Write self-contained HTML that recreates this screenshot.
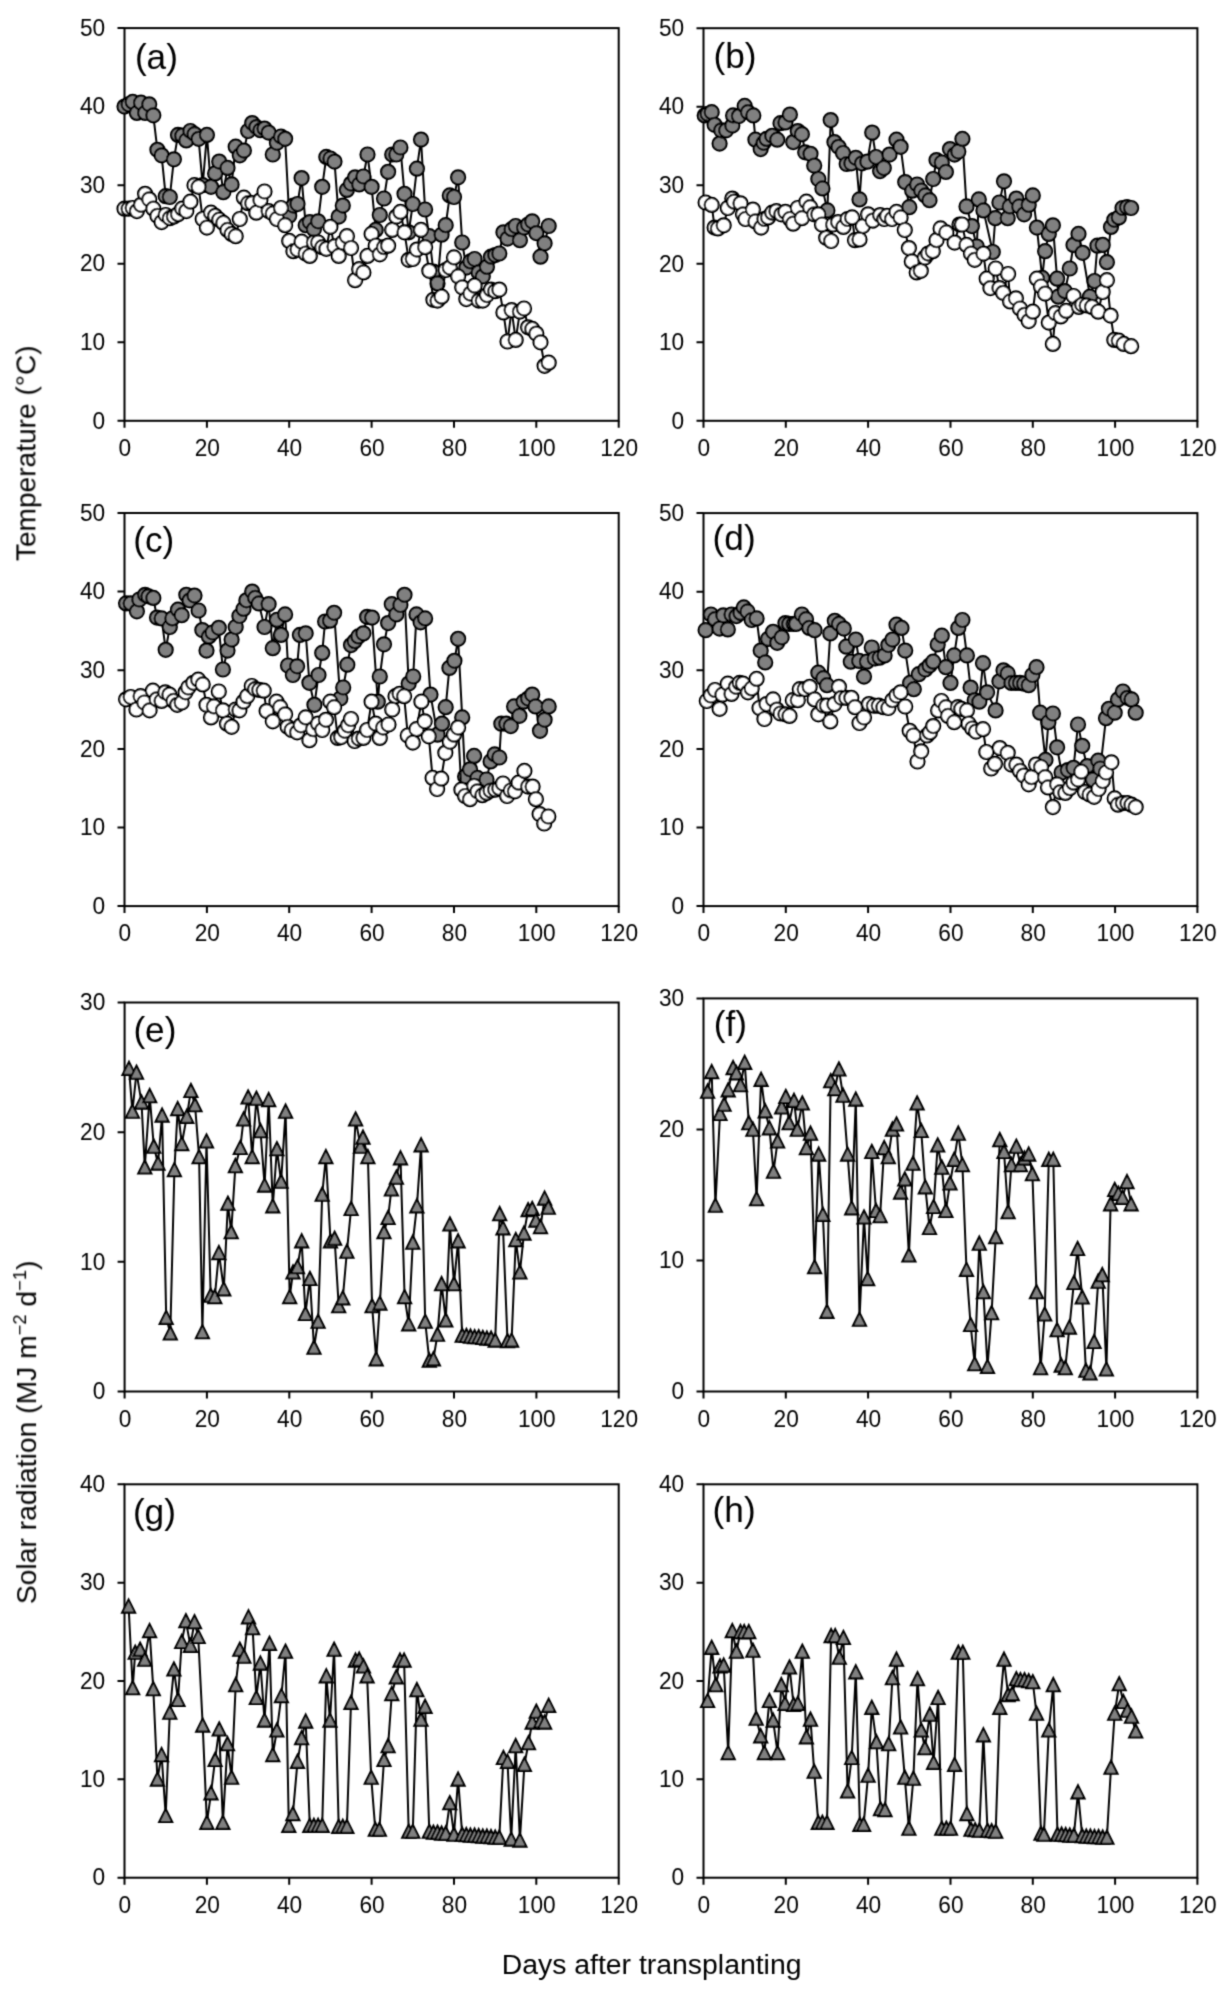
<!DOCTYPE html>
<html><head><meta charset="utf-8"><style>
html,body{margin:0;padding:0;background:#fff;}
svg{display:block;}
text{font-family:"Liberation Sans",sans-serif;fill:#000;}
.tl{font-size:22.7px;}
.tt{font-size:27.7px;}
.pl{font-size:35.2px;}
.sup{font-size:18.3px;}
</style></head><body>
<svg width="1228" height="1999" viewBox="0 0 1228 1999">
<defs><filter id="bl" x="0" y="0" width="1228" height="1999" filterUnits="userSpaceOnUse"><feConvolveMatrix order="3" kernelMatrix="1 4 1 4 16 4 1 4 1" edgeMode="none"/></filter><path id="tri" d="M0 -6.7L6.5 6.3H-6.5Z" fill="#808080" stroke="#000" stroke-width="2.1" stroke-linejoin="miter"/></defs>
<g filter="url(#bl)">
<rect x="124.5" y="28.1" width="494.2" height="392.7" fill="none" stroke="#000" stroke-width="2.0"/>
<text transform="translate(105.2 428.5) scale(1 1.06)" text-anchor="end" class="tl">0</text>
<text transform="translate(105.2 350) scale(1 1.06)" text-anchor="end" class="tl">10</text>
<text transform="translate(105.2 271.4) scale(1 1.06)" text-anchor="end" class="tl">20</text>
<text transform="translate(105.2 192.9) scale(1 1.06)" text-anchor="end" class="tl">30</text>
<text transform="translate(105.2 114.3) scale(1 1.06)" text-anchor="end" class="tl">40</text>
<text transform="translate(105.2 35.8) scale(1 1.06)" text-anchor="end" class="tl">50</text>
<text transform="translate(124.9 455.8) scale(1 1.06)" text-anchor="middle" class="tl">0</text>
<text transform="translate(207.3 455.8) scale(1 1.06)" text-anchor="middle" class="tl">20</text>
<text transform="translate(289.6 455.8) scale(1 1.06)" text-anchor="middle" class="tl">40</text>
<text transform="translate(372 455.8) scale(1 1.06)" text-anchor="middle" class="tl">60</text>
<text transform="translate(454.4 455.8) scale(1 1.06)" text-anchor="middle" class="tl">80</text>
<text transform="translate(536.7 455.8) scale(1 1.06)" text-anchor="middle" class="tl">100</text>
<text transform="translate(619.1 455.8) scale(1 1.06)" text-anchor="middle" class="tl">120</text>
<path d="M117.5 420.8H124.5M117.5 342.3H124.5M117.5 263.7H124.5M117.5 185.2H124.5M117.5 106.6H124.5M117.5 28.1H124.5M124.5 420.8V427.8M206.9 420.8V427.8M289.2 420.8V427.8M371.6 420.8V427.8M454 420.8V427.8M536.3 420.8V427.8M618.7 420.8V427.8" stroke="#000" stroke-width="2.0" fill="none"/>
<text x="134.9" y="68.8" class="pl">(a)</text>
<rect x="703.5" y="28.2" width="493.9" height="392.6" fill="none" stroke="#000" stroke-width="2.0"/>
<text transform="translate(684.2 428.5) scale(1 1.06)" text-anchor="end" class="tl">0</text>
<text transform="translate(684.2 350) scale(1 1.06)" text-anchor="end" class="tl">10</text>
<text transform="translate(684.2 271.5) scale(1 1.06)" text-anchor="end" class="tl">20</text>
<text transform="translate(684.2 192.9) scale(1 1.06)" text-anchor="end" class="tl">30</text>
<text transform="translate(684.2 114.4) scale(1 1.06)" text-anchor="end" class="tl">40</text>
<text transform="translate(684.2 35.9) scale(1 1.06)" text-anchor="end" class="tl">50</text>
<text transform="translate(703.9 455.8) scale(1 1.06)" text-anchor="middle" class="tl">0</text>
<text transform="translate(786.2 455.8) scale(1 1.06)" text-anchor="middle" class="tl">20</text>
<text transform="translate(868.5 455.8) scale(1 1.06)" text-anchor="middle" class="tl">40</text>
<text transform="translate(950.9 455.8) scale(1 1.06)" text-anchor="middle" class="tl">60</text>
<text transform="translate(1033.2 455.8) scale(1 1.06)" text-anchor="middle" class="tl">80</text>
<text transform="translate(1115.5 455.8) scale(1 1.06)" text-anchor="middle" class="tl">100</text>
<text transform="translate(1197.8 455.8) scale(1 1.06)" text-anchor="middle" class="tl">120</text>
<path d="M696.5 420.8H703.5M696.5 342.3H703.5M696.5 263.8H703.5M696.5 185.2H703.5M696.5 106.7H703.5M696.5 28.2H703.5M703.5 420.8V427.8M785.8 420.8V427.8M868.1 420.8V427.8M950.5 420.8V427.8M1032.8 420.8V427.8M1115.1 420.8V427.8M1197.4 420.8V427.8" stroke="#000" stroke-width="2.0" fill="none"/>
<text x="713.5" y="67.7" class="pl">(b)</text>
<rect x="124.5" y="513" width="494.2" height="393.1" fill="none" stroke="#000" stroke-width="2.0"/>
<text transform="translate(105.2 913.8) scale(1 1.06)" text-anchor="end" class="tl">0</text>
<text transform="translate(105.2 835.2) scale(1 1.06)" text-anchor="end" class="tl">10</text>
<text transform="translate(105.2 756.6) scale(1 1.06)" text-anchor="end" class="tl">20</text>
<text transform="translate(105.2 677.9) scale(1 1.06)" text-anchor="end" class="tl">30</text>
<text transform="translate(105.2 599.3) scale(1 1.06)" text-anchor="end" class="tl">40</text>
<text transform="translate(105.2 520.7) scale(1 1.06)" text-anchor="end" class="tl">50</text>
<text transform="translate(124.9 941.1) scale(1 1.06)" text-anchor="middle" class="tl">0</text>
<text transform="translate(207.3 941.1) scale(1 1.06)" text-anchor="middle" class="tl">20</text>
<text transform="translate(289.6 941.1) scale(1 1.06)" text-anchor="middle" class="tl">40</text>
<text transform="translate(372 941.1) scale(1 1.06)" text-anchor="middle" class="tl">60</text>
<text transform="translate(454.4 941.1) scale(1 1.06)" text-anchor="middle" class="tl">80</text>
<text transform="translate(536.7 941.1) scale(1 1.06)" text-anchor="middle" class="tl">100</text>
<text transform="translate(619.1 941.1) scale(1 1.06)" text-anchor="middle" class="tl">120</text>
<path d="M117.5 906.1H124.5M117.5 827.5H124.5M117.5 748.9H124.5M117.5 670.2H124.5M117.5 591.6H124.5M117.5 513H124.5M124.5 906.1V913.1M206.9 906.1V913.1M289.2 906.1V913.1M371.6 906.1V913.1M454 906.1V913.1M536.3 906.1V913.1M618.7 906.1V913.1" stroke="#000" stroke-width="2.0" fill="none"/>
<text x="133.2" y="551.9" class="pl">(c)</text>
<rect x="703.5" y="513.1" width="493.9" height="393" fill="none" stroke="#000" stroke-width="2.0"/>
<text transform="translate(684.2 913.8) scale(1 1.06)" text-anchor="end" class="tl">0</text>
<text transform="translate(684.2 835.2) scale(1 1.06)" text-anchor="end" class="tl">10</text>
<text transform="translate(684.2 756.6) scale(1 1.06)" text-anchor="end" class="tl">20</text>
<text transform="translate(684.2 678) scale(1 1.06)" text-anchor="end" class="tl">30</text>
<text transform="translate(684.2 599.4) scale(1 1.06)" text-anchor="end" class="tl">40</text>
<text transform="translate(684.2 520.8) scale(1 1.06)" text-anchor="end" class="tl">50</text>
<text transform="translate(703.9 941.1) scale(1 1.06)" text-anchor="middle" class="tl">0</text>
<text transform="translate(786.2 941.1) scale(1 1.06)" text-anchor="middle" class="tl">20</text>
<text transform="translate(868.5 941.1) scale(1 1.06)" text-anchor="middle" class="tl">40</text>
<text transform="translate(950.9 941.1) scale(1 1.06)" text-anchor="middle" class="tl">60</text>
<text transform="translate(1033.2 941.1) scale(1 1.06)" text-anchor="middle" class="tl">80</text>
<text transform="translate(1115.5 941.1) scale(1 1.06)" text-anchor="middle" class="tl">100</text>
<text transform="translate(1197.8 941.1) scale(1 1.06)" text-anchor="middle" class="tl">120</text>
<path d="M696.5 906.1H703.5M696.5 827.5H703.5M696.5 748.9H703.5M696.5 670.3H703.5M696.5 591.7H703.5M696.5 513.1H703.5M703.5 906.1V913.1M785.8 906.1V913.1M868.1 906.1V913.1M950.5 906.1V913.1M1032.8 906.1V913.1M1115.1 906.1V913.1M1197.4 906.1V913.1" stroke="#000" stroke-width="2.0" fill="none"/>
<text x="712.6" y="550.3" class="pl">(d)</text>
<rect x="124.6" y="1002.5" width="494.1" height="389" fill="none" stroke="#000" stroke-width="2.0"/>
<text transform="translate(105.3 1399.2) scale(1 1.06)" text-anchor="end" class="tl">0</text>
<text transform="translate(105.3 1269.5) scale(1 1.06)" text-anchor="end" class="tl">10</text>
<text transform="translate(105.3 1139.9) scale(1 1.06)" text-anchor="end" class="tl">20</text>
<text transform="translate(105.3 1010.2) scale(1 1.06)" text-anchor="end" class="tl">30</text>
<text transform="translate(125 1426.5) scale(1 1.06)" text-anchor="middle" class="tl">0</text>
<text transform="translate(207.3 1426.5) scale(1 1.06)" text-anchor="middle" class="tl">20</text>
<text transform="translate(289.7 1426.5) scale(1 1.06)" text-anchor="middle" class="tl">40</text>
<text transform="translate(372.1 1426.5) scale(1 1.06)" text-anchor="middle" class="tl">60</text>
<text transform="translate(454.4 1426.5) scale(1 1.06)" text-anchor="middle" class="tl">80</text>
<text transform="translate(536.8 1426.5) scale(1 1.06)" text-anchor="middle" class="tl">100</text>
<text transform="translate(619.1 1426.5) scale(1 1.06)" text-anchor="middle" class="tl">120</text>
<path d="M117.6 1391.5H124.6M117.6 1261.8H124.6M117.6 1132.2H124.6M117.6 1002.5H124.6M124.6 1391.5V1398.5M206.9 1391.5V1398.5M289.3 1391.5V1398.5M371.7 1391.5V1398.5M454 1391.5V1398.5M536.4 1391.5V1398.5M618.7 1391.5V1398.5" stroke="#000" stroke-width="2.0" fill="none"/>
<text x="133.4" y="1041.5" class="pl">(e)</text>
<rect x="703.5" y="998.4" width="493.9" height="393.1" fill="none" stroke="#000" stroke-width="2.0"/>
<text transform="translate(684.2 1399.2) scale(1 1.06)" text-anchor="end" class="tl">0</text>
<text transform="translate(684.2 1268.2) scale(1 1.06)" text-anchor="end" class="tl">10</text>
<text transform="translate(684.2 1137.1) scale(1 1.06)" text-anchor="end" class="tl">20</text>
<text transform="translate(684.2 1006.1) scale(1 1.06)" text-anchor="end" class="tl">30</text>
<text transform="translate(703.9 1426.5) scale(1 1.06)" text-anchor="middle" class="tl">0</text>
<text transform="translate(786.2 1426.5) scale(1 1.06)" text-anchor="middle" class="tl">20</text>
<text transform="translate(868.5 1426.5) scale(1 1.06)" text-anchor="middle" class="tl">40</text>
<text transform="translate(950.9 1426.5) scale(1 1.06)" text-anchor="middle" class="tl">60</text>
<text transform="translate(1033.2 1426.5) scale(1 1.06)" text-anchor="middle" class="tl">80</text>
<text transform="translate(1115.5 1426.5) scale(1 1.06)" text-anchor="middle" class="tl">100</text>
<text transform="translate(1197.8 1426.5) scale(1 1.06)" text-anchor="middle" class="tl">120</text>
<path d="M696.5 1391.5H703.5M696.5 1260.5H703.5M696.5 1129.4H703.5M696.5 998.4H703.5M703.5 1391.5V1398.5M785.8 1391.5V1398.5M868.1 1391.5V1398.5M950.5 1391.5V1398.5M1032.8 1391.5V1398.5M1115.1 1391.5V1398.5M1197.4 1391.5V1398.5" stroke="#000" stroke-width="2.0" fill="none"/>
<text x="713.8" y="1036" class="pl">(f)</text>
<rect x="124.5" y="1484.3" width="494.2" height="393.4" fill="none" stroke="#000" stroke-width="2.0"/>
<text transform="translate(105.2 1885.4) scale(1 1.06)" text-anchor="end" class="tl">0</text>
<text transform="translate(105.2 1787) scale(1 1.06)" text-anchor="end" class="tl">10</text>
<text transform="translate(105.2 1688.7) scale(1 1.06)" text-anchor="end" class="tl">20</text>
<text transform="translate(105.2 1590.4) scale(1 1.06)" text-anchor="end" class="tl">30</text>
<text transform="translate(105.2 1492) scale(1 1.06)" text-anchor="end" class="tl">40</text>
<text transform="translate(124.9 1912.7) scale(1 1.06)" text-anchor="middle" class="tl">0</text>
<text transform="translate(207.3 1912.7) scale(1 1.06)" text-anchor="middle" class="tl">20</text>
<text transform="translate(289.6 1912.7) scale(1 1.06)" text-anchor="middle" class="tl">40</text>
<text transform="translate(372 1912.7) scale(1 1.06)" text-anchor="middle" class="tl">60</text>
<text transform="translate(454.4 1912.7) scale(1 1.06)" text-anchor="middle" class="tl">80</text>
<text transform="translate(536.7 1912.7) scale(1 1.06)" text-anchor="middle" class="tl">100</text>
<text transform="translate(619.1 1912.7) scale(1 1.06)" text-anchor="middle" class="tl">120</text>
<path d="M117.5 1877.7H124.5M117.5 1779.3H124.5M117.5 1681H124.5M117.5 1582.7H124.5M117.5 1484.3H124.5M124.5 1877.7V1884.7M206.9 1877.7V1884.7M289.2 1877.7V1884.7M371.6 1877.7V1884.7M454 1877.7V1884.7M536.3 1877.7V1884.7M618.7 1877.7V1884.7" stroke="#000" stroke-width="2.0" fill="none"/>
<text x="132.9" y="1523.7" class="pl">(g)</text>
<rect x="703.5" y="1484.3" width="493.9" height="393.4" fill="none" stroke="#000" stroke-width="2.0"/>
<text transform="translate(684.2 1885.4) scale(1 1.06)" text-anchor="end" class="tl">0</text>
<text transform="translate(684.2 1787) scale(1 1.06)" text-anchor="end" class="tl">10</text>
<text transform="translate(684.2 1688.7) scale(1 1.06)" text-anchor="end" class="tl">20</text>
<text transform="translate(684.2 1590.4) scale(1 1.06)" text-anchor="end" class="tl">30</text>
<text transform="translate(684.2 1492) scale(1 1.06)" text-anchor="end" class="tl">40</text>
<text transform="translate(703.9 1912.7) scale(1 1.06)" text-anchor="middle" class="tl">0</text>
<text transform="translate(786.2 1912.7) scale(1 1.06)" text-anchor="middle" class="tl">20</text>
<text transform="translate(868.5 1912.7) scale(1 1.06)" text-anchor="middle" class="tl">40</text>
<text transform="translate(950.9 1912.7) scale(1 1.06)" text-anchor="middle" class="tl">60</text>
<text transform="translate(1033.2 1912.7) scale(1 1.06)" text-anchor="middle" class="tl">80</text>
<text transform="translate(1115.5 1912.7) scale(1 1.06)" text-anchor="middle" class="tl">100</text>
<text transform="translate(1197.8 1912.7) scale(1 1.06)" text-anchor="middle" class="tl">120</text>
<path d="M696.5 1877.7H703.5M696.5 1779.3H703.5M696.5 1681H703.5M696.5 1582.7H703.5M696.5 1484.3H703.5M703.5 1877.7V1884.7M785.8 1877.7V1884.7M868.1 1877.7V1884.7M950.5 1877.7V1884.7M1032.8 1877.7V1884.7M1115.1 1877.7V1884.7M1197.4 1877.7V1884.7" stroke="#000" stroke-width="2.0" fill="none"/>
<text x="712.6" y="1522" class="pl">(h)</text>
<g stroke="#000" stroke-width="2.2">
<polyline fill="none" stroke="#000" stroke-width="2.0" stroke-linejoin="round" points="124.5,106.6 128.6,104.3 132.7,101.9 136.9,112.9 141,102.7 145.1,112.9 149.2,104.3 153.3,115.3 157.4,149.8 161.6,155.3 165.7,196.2 169.8,197 173.9,159.3 178,134.9 182.2,135.7 186.3,140.4 190.4,131 194.5,134.1 198.6,138.8 202.7,185.2 206.9,134.9 211,186.8 215.1,173.4 219.2,161.6 223.3,192.2 227.5,167.9 231.6,184.4 235.7,146.7 239.8,155.3 243.9,150.6 248.1,131 252.2,123.1 256.3,127.1 260.4,130.2 264.5,128.6 268.6,132.6 272.8,154.5 276.9,142.8 281,136.5 285.1,138.8 289.2,215.8 293.4,205.6 297.5,204 301.6,178.1 305.7,225.2 309.8,222.1 313.9,229.2 318.1,221.3 322.2,186.8 326.3,156.9 330.4,158.5 334.5,161.6 338.7,216.6 342.8,205.6 346.9,189.9 351,183.6 355.1,177.3 359.2,184.4 363.4,176.5 367.5,154.5 371.6,186.8 375.7,229.9 379.8,215 384,198.5 388.1,171.8 392.2,154.5 396.3,154.5 400.4,147.5 404.5,193.8 408.7,232.3 412.8,204 416.9,168.7 421,139.6 425.1,209.5 429.3,236.2 433.4,271.6 437.5,283.4 441.6,234.7 445.7,225.2 449.8,195.4 454,197 458.1,177.3 462.2,242.5 466.3,267.6 470.4,261.4 474.6,259 478.7,272.4 482.8,276.3 486.9,266.9 491,256.7 495.2,255.1 499.3,253.5 503.4,232.3 507.5,238.6 511.6,229.2 515.7,226 519.9,240.2 524,227.6 528.1,224.5 532.2,221.3 536.3,233.1 540.5,256.7 544.6,243.3 548.7,226"/>
<circle cx="124.5" cy="106.6" r="7.0" fill="#808080"/>
<circle cx="128.6" cy="104.3" r="7.0" fill="#808080"/>
<circle cx="132.7" cy="101.9" r="7.0" fill="#808080"/>
<circle cx="136.9" cy="112.9" r="7.0" fill="#808080"/>
<circle cx="141" cy="102.7" r="7.0" fill="#808080"/>
<circle cx="145.1" cy="112.9" r="7.0" fill="#808080"/>
<circle cx="149.2" cy="104.3" r="7.0" fill="#808080"/>
<circle cx="153.3" cy="115.3" r="7.0" fill="#808080"/>
<circle cx="157.4" cy="149.8" r="7.0" fill="#808080"/>
<circle cx="161.6" cy="155.3" r="7.0" fill="#808080"/>
<circle cx="165.7" cy="196.2" r="7.0" fill="#808080"/>
<circle cx="169.8" cy="197" r="7.0" fill="#808080"/>
<circle cx="173.9" cy="159.3" r="7.0" fill="#808080"/>
<circle cx="178" cy="134.9" r="7.0" fill="#808080"/>
<circle cx="182.2" cy="135.7" r="7.0" fill="#808080"/>
<circle cx="186.3" cy="140.4" r="7.0" fill="#808080"/>
<circle cx="190.4" cy="131" r="7.0" fill="#808080"/>
<circle cx="194.5" cy="134.1" r="7.0" fill="#808080"/>
<circle cx="198.6" cy="138.8" r="7.0" fill="#808080"/>
<circle cx="202.7" cy="185.2" r="7.0" fill="#808080"/>
<circle cx="206.9" cy="134.9" r="7.0" fill="#808080"/>
<circle cx="211" cy="186.8" r="7.0" fill="#808080"/>
<circle cx="215.1" cy="173.4" r="7.0" fill="#808080"/>
<circle cx="219.2" cy="161.6" r="7.0" fill="#808080"/>
<circle cx="223.3" cy="192.2" r="7.0" fill="#808080"/>
<circle cx="227.5" cy="167.9" r="7.0" fill="#808080"/>
<circle cx="231.6" cy="184.4" r="7.0" fill="#808080"/>
<circle cx="235.7" cy="146.7" r="7.0" fill="#808080"/>
<circle cx="239.8" cy="155.3" r="7.0" fill="#808080"/>
<circle cx="243.9" cy="150.6" r="7.0" fill="#808080"/>
<circle cx="248.1" cy="131" r="7.0" fill="#808080"/>
<circle cx="252.2" cy="123.1" r="7.0" fill="#808080"/>
<circle cx="256.3" cy="127.1" r="7.0" fill="#808080"/>
<circle cx="260.4" cy="130.2" r="7.0" fill="#808080"/>
<circle cx="264.5" cy="128.6" r="7.0" fill="#808080"/>
<circle cx="268.6" cy="132.6" r="7.0" fill="#808080"/>
<circle cx="272.8" cy="154.5" r="7.0" fill="#808080"/>
<circle cx="276.9" cy="142.8" r="7.0" fill="#808080"/>
<circle cx="281" cy="136.5" r="7.0" fill="#808080"/>
<circle cx="285.1" cy="138.8" r="7.0" fill="#808080"/>
<circle cx="289.2" cy="215.8" r="7.0" fill="#808080"/>
<circle cx="293.4" cy="205.6" r="7.0" fill="#808080"/>
<circle cx="297.5" cy="204" r="7.0" fill="#808080"/>
<circle cx="301.6" cy="178.1" r="7.0" fill="#808080"/>
<circle cx="305.7" cy="225.2" r="7.0" fill="#808080"/>
<circle cx="309.8" cy="222.1" r="7.0" fill="#808080"/>
<circle cx="313.9" cy="229.2" r="7.0" fill="#808080"/>
<circle cx="318.1" cy="221.3" r="7.0" fill="#808080"/>
<circle cx="322.2" cy="186.8" r="7.0" fill="#808080"/>
<circle cx="326.3" cy="156.9" r="7.0" fill="#808080"/>
<circle cx="330.4" cy="158.5" r="7.0" fill="#808080"/>
<circle cx="334.5" cy="161.6" r="7.0" fill="#808080"/>
<circle cx="338.7" cy="216.6" r="7.0" fill="#808080"/>
<circle cx="342.8" cy="205.6" r="7.0" fill="#808080"/>
<circle cx="346.9" cy="189.9" r="7.0" fill="#808080"/>
<circle cx="351" cy="183.6" r="7.0" fill="#808080"/>
<circle cx="355.1" cy="177.3" r="7.0" fill="#808080"/>
<circle cx="359.2" cy="184.4" r="7.0" fill="#808080"/>
<circle cx="363.4" cy="176.5" r="7.0" fill="#808080"/>
<circle cx="367.5" cy="154.5" r="7.0" fill="#808080"/>
<circle cx="371.6" cy="186.8" r="7.0" fill="#808080"/>
<circle cx="375.7" cy="229.9" r="7.0" fill="#808080"/>
<circle cx="379.8" cy="215" r="7.0" fill="#808080"/>
<circle cx="384" cy="198.5" r="7.0" fill="#808080"/>
<circle cx="388.1" cy="171.8" r="7.0" fill="#808080"/>
<circle cx="392.2" cy="154.5" r="7.0" fill="#808080"/>
<circle cx="396.3" cy="154.5" r="7.0" fill="#808080"/>
<circle cx="400.4" cy="147.5" r="7.0" fill="#808080"/>
<circle cx="404.5" cy="193.8" r="7.0" fill="#808080"/>
<circle cx="408.7" cy="232.3" r="7.0" fill="#808080"/>
<circle cx="412.8" cy="204" r="7.0" fill="#808080"/>
<circle cx="416.9" cy="168.7" r="7.0" fill="#808080"/>
<circle cx="421" cy="139.6" r="7.0" fill="#808080"/>
<circle cx="425.1" cy="209.5" r="7.0" fill="#808080"/>
<circle cx="429.3" cy="236.2" r="7.0" fill="#808080"/>
<circle cx="433.4" cy="271.6" r="7.0" fill="#808080"/>
<circle cx="437.5" cy="283.4" r="7.0" fill="#808080"/>
<circle cx="441.6" cy="234.7" r="7.0" fill="#808080"/>
<circle cx="445.7" cy="225.2" r="7.0" fill="#808080"/>
<circle cx="449.8" cy="195.4" r="7.0" fill="#808080"/>
<circle cx="454" cy="197" r="7.0" fill="#808080"/>
<circle cx="458.1" cy="177.3" r="7.0" fill="#808080"/>
<circle cx="462.2" cy="242.5" r="7.0" fill="#808080"/>
<circle cx="466.3" cy="267.6" r="7.0" fill="#808080"/>
<circle cx="470.4" cy="261.4" r="7.0" fill="#808080"/>
<circle cx="474.6" cy="259" r="7.0" fill="#808080"/>
<circle cx="478.7" cy="272.4" r="7.0" fill="#808080"/>
<circle cx="482.8" cy="276.3" r="7.0" fill="#808080"/>
<circle cx="486.9" cy="266.9" r="7.0" fill="#808080"/>
<circle cx="491" cy="256.7" r="7.0" fill="#808080"/>
<circle cx="495.2" cy="255.1" r="7.0" fill="#808080"/>
<circle cx="499.3" cy="253.5" r="7.0" fill="#808080"/>
<circle cx="503.4" cy="232.3" r="7.0" fill="#808080"/>
<circle cx="507.5" cy="238.6" r="7.0" fill="#808080"/>
<circle cx="511.6" cy="229.2" r="7.0" fill="#808080"/>
<circle cx="515.7" cy="226" r="7.0" fill="#808080"/>
<circle cx="519.9" cy="240.2" r="7.0" fill="#808080"/>
<circle cx="524" cy="227.6" r="7.0" fill="#808080"/>
<circle cx="528.1" cy="224.5" r="7.0" fill="#808080"/>
<circle cx="532.2" cy="221.3" r="7.0" fill="#808080"/>
<circle cx="536.3" cy="233.1" r="7.0" fill="#808080"/>
<circle cx="540.5" cy="256.7" r="7.0" fill="#808080"/>
<circle cx="544.6" cy="243.3" r="7.0" fill="#808080"/>
<circle cx="548.7" cy="226" r="7.0" fill="#808080"/>
<polyline fill="none" stroke="#000" stroke-width="2.0" stroke-linejoin="round" points="124.5,208.7 128.6,208.7 132.7,208 136.9,211.1 141,204.8 145.1,193.8 149.2,199.3 153.3,208.7 157.4,215.8 161.6,222.1 165.7,215 169.8,218.2 173.9,216.6 178,214.2 182.2,208.7 186.3,211.1 190.4,201.7 194.5,185.2 198.6,186.8 202.7,219 206.9,227.6 211,212.7 215.1,215.8 219.2,219.7 223.3,222.9 227.5,229.9 231.6,233.9 235.7,236.2 239.8,219 243.9,197.7 248.1,203.2 252.2,203.2 256.3,212.7 260.4,200.1 264.5,191.5 268.6,211.1 272.8,213.5 276.9,219 281,208 285.1,225.2 289.2,240.9 293.4,251.2 297.5,249.6 301.6,241.7 305.7,253.5 309.8,255.9 313.9,242.5 318.1,242.5 322.2,247.2 326.3,248.8 330.4,226.8 334.5,246.4 338.7,255.9 342.8,242.5 346.9,236.2 351,248 355.1,280.2 359.2,269.2 363.4,272.4 367.5,255.9 371.6,233.9 375.7,245.7 379.8,254.3 384,247.2 388.1,245.7 392.2,229.9 396.3,216.6 400.4,211.9 404.5,232.3 408.7,259.8 412.8,259 416.9,249.6 421,229.9 425.1,247.2 429.3,270.8 433.4,299.8 437.5,300.6 441.6,296.7 445.7,270 449.8,267.6 454,257.4 458.1,276.3 462.2,287.3 466.3,299.1 470.4,293.6 474.6,285.7 478.7,300.6 482.8,300.6 486.9,295.1 491,289.6 495.2,291.2 499.3,289.6 503.4,312.4 507.5,341.5 511.6,310.1 515.7,339.9 519.9,311.6 524,308.5 528.1,327.3 532.2,328.9 536.3,333.6 540.5,342.3 544.6,365.8 548.7,362.7"/>
<circle cx="124.5" cy="208.7" r="7.0" fill="#fff"/>
<circle cx="128.6" cy="208.7" r="7.0" fill="#fff"/>
<circle cx="132.7" cy="208" r="7.0" fill="#fff"/>
<circle cx="136.9" cy="211.1" r="7.0" fill="#fff"/>
<circle cx="141" cy="204.8" r="7.0" fill="#fff"/>
<circle cx="145.1" cy="193.8" r="7.0" fill="#fff"/>
<circle cx="149.2" cy="199.3" r="7.0" fill="#fff"/>
<circle cx="153.3" cy="208.7" r="7.0" fill="#fff"/>
<circle cx="157.4" cy="215.8" r="7.0" fill="#fff"/>
<circle cx="161.6" cy="222.1" r="7.0" fill="#fff"/>
<circle cx="165.7" cy="215" r="7.0" fill="#fff"/>
<circle cx="169.8" cy="218.2" r="7.0" fill="#fff"/>
<circle cx="173.9" cy="216.6" r="7.0" fill="#fff"/>
<circle cx="178" cy="214.2" r="7.0" fill="#fff"/>
<circle cx="182.2" cy="208.7" r="7.0" fill="#fff"/>
<circle cx="186.3" cy="211.1" r="7.0" fill="#fff"/>
<circle cx="190.4" cy="201.7" r="7.0" fill="#fff"/>
<circle cx="194.5" cy="185.2" r="7.0" fill="#fff"/>
<circle cx="198.6" cy="186.8" r="7.0" fill="#fff"/>
<circle cx="202.7" cy="219" r="7.0" fill="#fff"/>
<circle cx="206.9" cy="227.6" r="7.0" fill="#fff"/>
<circle cx="211" cy="212.7" r="7.0" fill="#fff"/>
<circle cx="215.1" cy="215.8" r="7.0" fill="#fff"/>
<circle cx="219.2" cy="219.7" r="7.0" fill="#fff"/>
<circle cx="223.3" cy="222.9" r="7.0" fill="#fff"/>
<circle cx="227.5" cy="229.9" r="7.0" fill="#fff"/>
<circle cx="231.6" cy="233.9" r="7.0" fill="#fff"/>
<circle cx="235.7" cy="236.2" r="7.0" fill="#fff"/>
<circle cx="239.8" cy="219" r="7.0" fill="#fff"/>
<circle cx="243.9" cy="197.7" r="7.0" fill="#fff"/>
<circle cx="248.1" cy="203.2" r="7.0" fill="#fff"/>
<circle cx="252.2" cy="203.2" r="7.0" fill="#fff"/>
<circle cx="256.3" cy="212.7" r="7.0" fill="#fff"/>
<circle cx="260.4" cy="200.1" r="7.0" fill="#fff"/>
<circle cx="264.5" cy="191.5" r="7.0" fill="#fff"/>
<circle cx="268.6" cy="211.1" r="7.0" fill="#fff"/>
<circle cx="272.8" cy="213.5" r="7.0" fill="#fff"/>
<circle cx="276.9" cy="219" r="7.0" fill="#fff"/>
<circle cx="281" cy="208" r="7.0" fill="#fff"/>
<circle cx="285.1" cy="225.2" r="7.0" fill="#fff"/>
<circle cx="289.2" cy="240.9" r="7.0" fill="#fff"/>
<circle cx="293.4" cy="251.2" r="7.0" fill="#fff"/>
<circle cx="297.5" cy="249.6" r="7.0" fill="#fff"/>
<circle cx="301.6" cy="241.7" r="7.0" fill="#fff"/>
<circle cx="305.7" cy="253.5" r="7.0" fill="#fff"/>
<circle cx="309.8" cy="255.9" r="7.0" fill="#fff"/>
<circle cx="313.9" cy="242.5" r="7.0" fill="#fff"/>
<circle cx="318.1" cy="242.5" r="7.0" fill="#fff"/>
<circle cx="322.2" cy="247.2" r="7.0" fill="#fff"/>
<circle cx="326.3" cy="248.8" r="7.0" fill="#fff"/>
<circle cx="330.4" cy="226.8" r="7.0" fill="#fff"/>
<circle cx="334.5" cy="246.4" r="7.0" fill="#fff"/>
<circle cx="338.7" cy="255.9" r="7.0" fill="#fff"/>
<circle cx="342.8" cy="242.5" r="7.0" fill="#fff"/>
<circle cx="346.9" cy="236.2" r="7.0" fill="#fff"/>
<circle cx="351" cy="248" r="7.0" fill="#fff"/>
<circle cx="355.1" cy="280.2" r="7.0" fill="#fff"/>
<circle cx="359.2" cy="269.2" r="7.0" fill="#fff"/>
<circle cx="363.4" cy="272.4" r="7.0" fill="#fff"/>
<circle cx="367.5" cy="255.9" r="7.0" fill="#fff"/>
<circle cx="371.6" cy="233.9" r="7.0" fill="#fff"/>
<circle cx="375.7" cy="245.7" r="7.0" fill="#fff"/>
<circle cx="379.8" cy="254.3" r="7.0" fill="#fff"/>
<circle cx="384" cy="247.2" r="7.0" fill="#fff"/>
<circle cx="388.1" cy="245.7" r="7.0" fill="#fff"/>
<circle cx="392.2" cy="229.9" r="7.0" fill="#fff"/>
<circle cx="396.3" cy="216.6" r="7.0" fill="#fff"/>
<circle cx="400.4" cy="211.9" r="7.0" fill="#fff"/>
<circle cx="404.5" cy="232.3" r="7.0" fill="#fff"/>
<circle cx="408.7" cy="259.8" r="7.0" fill="#fff"/>
<circle cx="412.8" cy="259" r="7.0" fill="#fff"/>
<circle cx="416.9" cy="249.6" r="7.0" fill="#fff"/>
<circle cx="421" cy="229.9" r="7.0" fill="#fff"/>
<circle cx="425.1" cy="247.2" r="7.0" fill="#fff"/>
<circle cx="429.3" cy="270.8" r="7.0" fill="#fff"/>
<circle cx="433.4" cy="299.8" r="7.0" fill="#fff"/>
<circle cx="437.5" cy="300.6" r="7.0" fill="#fff"/>
<circle cx="441.6" cy="296.7" r="7.0" fill="#fff"/>
<circle cx="445.7" cy="270" r="7.0" fill="#fff"/>
<circle cx="449.8" cy="267.6" r="7.0" fill="#fff"/>
<circle cx="454" cy="257.4" r="7.0" fill="#fff"/>
<circle cx="458.1" cy="276.3" r="7.0" fill="#fff"/>
<circle cx="462.2" cy="287.3" r="7.0" fill="#fff"/>
<circle cx="466.3" cy="299.1" r="7.0" fill="#fff"/>
<circle cx="470.4" cy="293.6" r="7.0" fill="#fff"/>
<circle cx="474.6" cy="285.7" r="7.0" fill="#fff"/>
<circle cx="478.7" cy="300.6" r="7.0" fill="#fff"/>
<circle cx="482.8" cy="300.6" r="7.0" fill="#fff"/>
<circle cx="486.9" cy="295.1" r="7.0" fill="#fff"/>
<circle cx="491" cy="289.6" r="7.0" fill="#fff"/>
<circle cx="495.2" cy="291.2" r="7.0" fill="#fff"/>
<circle cx="499.3" cy="289.6" r="7.0" fill="#fff"/>
<circle cx="503.4" cy="312.4" r="7.0" fill="#fff"/>
<circle cx="507.5" cy="341.5" r="7.0" fill="#fff"/>
<circle cx="511.6" cy="310.1" r="7.0" fill="#fff"/>
<circle cx="515.7" cy="339.9" r="7.0" fill="#fff"/>
<circle cx="519.9" cy="311.6" r="7.0" fill="#fff"/>
<circle cx="524" cy="308.5" r="7.0" fill="#fff"/>
<circle cx="528.1" cy="327.3" r="7.0" fill="#fff"/>
<circle cx="532.2" cy="328.9" r="7.0" fill="#fff"/>
<circle cx="536.3" cy="333.6" r="7.0" fill="#fff"/>
<circle cx="540.5" cy="342.3" r="7.0" fill="#fff"/>
<circle cx="544.6" cy="365.8" r="7.0" fill="#fff"/>
<circle cx="548.7" cy="362.7" r="7.0" fill="#fff"/>
<polyline fill="none" stroke="#000" stroke-width="2.0" stroke-linejoin="round" points="704.7,115.4 707.6,113.8 711.7,112.2 714.6,124.8 719.6,143.6 721.2,130.3 726.1,130.3 732.3,125.6 733.1,115.4 738.9,116.1 744.7,105.9 748,112.2 753.3,115.4 755.4,139.7 760.7,149.1 763.6,142.8 766.5,138.9 772.2,135.8 777.2,139.7 780.5,123.2 785.4,122.4 789.9,114.6 793.2,142.1 797.8,131.1 801.9,134.2 805.2,152.3 810.5,153.8 814.2,165.6 818.3,179 822.4,188.4 827.4,210.4 830.7,120.1 834.4,142.1 838.5,146.8 843,153 846.7,164 851.3,163.3 855.8,157.8 859.5,199.4 862,163.3 867.3,161.7 872.2,132.6 876,157 880.1,171.1 883.8,168 889.5,154.6 896.5,139.7 900.6,146.8 905.2,182.1 909.3,207.2 912.2,190.7 917.1,184.5 921.2,190.7 925.3,195.4 929.5,200.2 933.2,179 936.5,160.1 941.8,162.5 945.9,171.9 950,149.1 954.6,154.6 958.3,151.5 962.4,138.9 966.5,206.4 971.9,226.1 976.8,246.5 978.8,199.4 983.4,210.4 992.8,252 995.3,218.2 999.4,202.5 1004,181.3 1007.7,218.2 1009.7,206.4 1016.3,198.6 1019.2,206.4 1024.1,214.3 1028.7,204.9 1032.8,195.4 1036.9,227.6 1042.2,277.9 1045.1,251.2 1048.8,233.9 1052.9,225.3 1057.1,278.7 1058.3,296.7 1064.9,291.2 1069.8,268.5 1073.5,244.9 1078.5,233.9 1082.6,252.8 1090,296.7 1094.5,281 1097.4,245.7 1102.7,244.9 1106.9,262.2 1111,226.9 1114.3,219.8 1118.8,217.4 1122.5,208 1127,207.2 1131.1,208"/>
<circle cx="704.7" cy="115.4" r="7.0" fill="#808080"/>
<circle cx="707.6" cy="113.8" r="7.0" fill="#808080"/>
<circle cx="711.7" cy="112.2" r="7.0" fill="#808080"/>
<circle cx="714.6" cy="124.8" r="7.0" fill="#808080"/>
<circle cx="719.6" cy="143.6" r="7.0" fill="#808080"/>
<circle cx="721.2" cy="130.3" r="7.0" fill="#808080"/>
<circle cx="726.1" cy="130.3" r="7.0" fill="#808080"/>
<circle cx="732.3" cy="125.6" r="7.0" fill="#808080"/>
<circle cx="733.1" cy="115.4" r="7.0" fill="#808080"/>
<circle cx="738.9" cy="116.1" r="7.0" fill="#808080"/>
<circle cx="744.7" cy="105.9" r="7.0" fill="#808080"/>
<circle cx="748" cy="112.2" r="7.0" fill="#808080"/>
<circle cx="753.3" cy="115.4" r="7.0" fill="#808080"/>
<circle cx="755.4" cy="139.7" r="7.0" fill="#808080"/>
<circle cx="760.7" cy="149.1" r="7.0" fill="#808080"/>
<circle cx="763.6" cy="142.8" r="7.0" fill="#808080"/>
<circle cx="766.5" cy="138.9" r="7.0" fill="#808080"/>
<circle cx="772.2" cy="135.8" r="7.0" fill="#808080"/>
<circle cx="777.2" cy="139.7" r="7.0" fill="#808080"/>
<circle cx="780.5" cy="123.2" r="7.0" fill="#808080"/>
<circle cx="785.4" cy="122.4" r="7.0" fill="#808080"/>
<circle cx="789.9" cy="114.6" r="7.0" fill="#808080"/>
<circle cx="793.2" cy="142.1" r="7.0" fill="#808080"/>
<circle cx="797.8" cy="131.1" r="7.0" fill="#808080"/>
<circle cx="801.9" cy="134.2" r="7.0" fill="#808080"/>
<circle cx="805.2" cy="152.3" r="7.0" fill="#808080"/>
<circle cx="810.5" cy="153.8" r="7.0" fill="#808080"/>
<circle cx="814.2" cy="165.6" r="7.0" fill="#808080"/>
<circle cx="818.3" cy="179" r="7.0" fill="#808080"/>
<circle cx="822.4" cy="188.4" r="7.0" fill="#808080"/>
<circle cx="827.4" cy="210.4" r="7.0" fill="#808080"/>
<circle cx="830.7" cy="120.1" r="7.0" fill="#808080"/>
<circle cx="834.4" cy="142.1" r="7.0" fill="#808080"/>
<circle cx="838.5" cy="146.8" r="7.0" fill="#808080"/>
<circle cx="843" cy="153" r="7.0" fill="#808080"/>
<circle cx="846.7" cy="164" r="7.0" fill="#808080"/>
<circle cx="851.3" cy="163.3" r="7.0" fill="#808080"/>
<circle cx="855.8" cy="157.8" r="7.0" fill="#808080"/>
<circle cx="859.5" cy="199.4" r="7.0" fill="#808080"/>
<circle cx="862" cy="163.3" r="7.0" fill="#808080"/>
<circle cx="867.3" cy="161.7" r="7.0" fill="#808080"/>
<circle cx="872.2" cy="132.6" r="7.0" fill="#808080"/>
<circle cx="876" cy="157" r="7.0" fill="#808080"/>
<circle cx="880.1" cy="171.1" r="7.0" fill="#808080"/>
<circle cx="883.8" cy="168" r="7.0" fill="#808080"/>
<circle cx="889.5" cy="154.6" r="7.0" fill="#808080"/>
<circle cx="896.5" cy="139.7" r="7.0" fill="#808080"/>
<circle cx="900.6" cy="146.8" r="7.0" fill="#808080"/>
<circle cx="905.2" cy="182.1" r="7.0" fill="#808080"/>
<circle cx="909.3" cy="207.2" r="7.0" fill="#808080"/>
<circle cx="912.2" cy="190.7" r="7.0" fill="#808080"/>
<circle cx="917.1" cy="184.5" r="7.0" fill="#808080"/>
<circle cx="921.2" cy="190.7" r="7.0" fill="#808080"/>
<circle cx="925.3" cy="195.4" r="7.0" fill="#808080"/>
<circle cx="929.5" cy="200.2" r="7.0" fill="#808080"/>
<circle cx="933.2" cy="179" r="7.0" fill="#808080"/>
<circle cx="936.5" cy="160.1" r="7.0" fill="#808080"/>
<circle cx="941.8" cy="162.5" r="7.0" fill="#808080"/>
<circle cx="945.9" cy="171.9" r="7.0" fill="#808080"/>
<circle cx="950" cy="149.1" r="7.0" fill="#808080"/>
<circle cx="954.6" cy="154.6" r="7.0" fill="#808080"/>
<circle cx="958.3" cy="151.5" r="7.0" fill="#808080"/>
<circle cx="962.4" cy="138.9" r="7.0" fill="#808080"/>
<circle cx="966.5" cy="206.4" r="7.0" fill="#808080"/>
<circle cx="971.9" cy="226.1" r="7.0" fill="#808080"/>
<circle cx="976.8" cy="246.5" r="7.0" fill="#808080"/>
<circle cx="978.8" cy="199.4" r="7.0" fill="#808080"/>
<circle cx="983.4" cy="210.4" r="7.0" fill="#808080"/>
<circle cx="992.8" cy="252" r="7.0" fill="#808080"/>
<circle cx="995.3" cy="218.2" r="7.0" fill="#808080"/>
<circle cx="999.4" cy="202.5" r="7.0" fill="#808080"/>
<circle cx="1004" cy="181.3" r="7.0" fill="#808080"/>
<circle cx="1007.7" cy="218.2" r="7.0" fill="#808080"/>
<circle cx="1009.7" cy="206.4" r="7.0" fill="#808080"/>
<circle cx="1016.3" cy="198.6" r="7.0" fill="#808080"/>
<circle cx="1019.2" cy="206.4" r="7.0" fill="#808080"/>
<circle cx="1024.1" cy="214.3" r="7.0" fill="#808080"/>
<circle cx="1028.7" cy="204.9" r="7.0" fill="#808080"/>
<circle cx="1032.8" cy="195.4" r="7.0" fill="#808080"/>
<circle cx="1036.9" cy="227.6" r="7.0" fill="#808080"/>
<circle cx="1042.2" cy="277.9" r="7.0" fill="#808080"/>
<circle cx="1045.1" cy="251.2" r="7.0" fill="#808080"/>
<circle cx="1048.8" cy="233.9" r="7.0" fill="#808080"/>
<circle cx="1052.9" cy="225.3" r="7.0" fill="#808080"/>
<circle cx="1057.1" cy="278.7" r="7.0" fill="#808080"/>
<circle cx="1058.3" cy="296.7" r="7.0" fill="#808080"/>
<circle cx="1064.9" cy="291.2" r="7.0" fill="#808080"/>
<circle cx="1069.8" cy="268.5" r="7.0" fill="#808080"/>
<circle cx="1073.5" cy="244.9" r="7.0" fill="#808080"/>
<circle cx="1078.5" cy="233.9" r="7.0" fill="#808080"/>
<circle cx="1082.6" cy="252.8" r="7.0" fill="#808080"/>
<circle cx="1090" cy="296.7" r="7.0" fill="#808080"/>
<circle cx="1094.5" cy="281" r="7.0" fill="#808080"/>
<circle cx="1097.4" cy="245.7" r="7.0" fill="#808080"/>
<circle cx="1102.7" cy="244.9" r="7.0" fill="#808080"/>
<circle cx="1106.9" cy="262.2" r="7.0" fill="#808080"/>
<circle cx="1111" cy="226.9" r="7.0" fill="#808080"/>
<circle cx="1114.3" cy="219.8" r="7.0" fill="#808080"/>
<circle cx="1118.8" cy="217.4" r="7.0" fill="#808080"/>
<circle cx="1122.5" cy="208" r="7.0" fill="#808080"/>
<circle cx="1127" cy="207.2" r="7.0" fill="#808080"/>
<circle cx="1131.1" cy="208" r="7.0" fill="#808080"/>
<polyline fill="none" stroke="#000" stroke-width="2.0" stroke-linejoin="round" points="705.6,202.5 711.7,204.9 714.6,227.6 717.9,228.4 723.7,225.3 727.8,208 732.3,198.6 734,201.7 740.5,203.3 743,214.3 745.5,219 752.9,209.6 755.4,221.4 761.1,227.6 764.4,219 768.1,217.4 772.2,212.7 776.4,211.2 781.3,214.3 785.4,211.9 789.9,219 793.2,223.7 797.8,208 801.9,218.2 806.4,201.7 810.1,207.2 814.2,214.3 818.3,214.3 822,224.5 826.2,237.8 831.1,241 833.1,224.5 838.1,222.1 843.4,226.9 847.6,219 852.1,217.4 855,240.2 859.5,239.4 862.8,226.1 868.1,214.3 872.7,220.6 880.1,215.1 884.2,219 887.1,215.9 892,219 896.5,211.9 900.6,217.4 904.8,230 908.9,248.1 911.8,261.4 916.7,272.4 920.8,270.8 924.9,257.5 928.2,253.6 932.8,251.2 936.5,240.2 940.6,228.4 946.3,232.4 954.6,242.6 959.5,224.5 962,224.5 966.5,244.9 971,253.6 974.7,259.8 983.4,253.6 986.7,278.7 990.4,288.1 995.7,268.5 999.4,288.1 1003.1,292.8 1008.1,274 1010.1,301.4 1015.9,298.3 1020,308.5 1024.5,314.8 1028.7,321.1 1032.8,311.7 1036.9,278.7 1041,286.5 1045.1,293.6 1048.8,322.6 1052.9,343.9 1055.4,313.2 1060.8,316.4 1066.1,310.9 1073.5,296 1078.9,306.9 1082.2,304.6 1086.7,305.4 1092,306.9 1098.2,311.7 1102.7,292 1106.9,280.2 1110.6,315.6 1114.3,339.9 1118.8,340.7 1123.7,343.9 1131.1,346.2"/>
<circle cx="705.6" cy="202.5" r="7.0" fill="#fff"/>
<circle cx="711.7" cy="204.9" r="7.0" fill="#fff"/>
<circle cx="714.6" cy="227.6" r="7.0" fill="#fff"/>
<circle cx="717.9" cy="228.4" r="7.0" fill="#fff"/>
<circle cx="723.7" cy="225.3" r="7.0" fill="#fff"/>
<circle cx="727.8" cy="208" r="7.0" fill="#fff"/>
<circle cx="732.3" cy="198.6" r="7.0" fill="#fff"/>
<circle cx="734" cy="201.7" r="7.0" fill="#fff"/>
<circle cx="740.5" cy="203.3" r="7.0" fill="#fff"/>
<circle cx="743" cy="214.3" r="7.0" fill="#fff"/>
<circle cx="745.5" cy="219" r="7.0" fill="#fff"/>
<circle cx="752.9" cy="209.6" r="7.0" fill="#fff"/>
<circle cx="755.4" cy="221.4" r="7.0" fill="#fff"/>
<circle cx="761.1" cy="227.6" r="7.0" fill="#fff"/>
<circle cx="764.4" cy="219" r="7.0" fill="#fff"/>
<circle cx="768.1" cy="217.4" r="7.0" fill="#fff"/>
<circle cx="772.2" cy="212.7" r="7.0" fill="#fff"/>
<circle cx="776.4" cy="211.2" r="7.0" fill="#fff"/>
<circle cx="781.3" cy="214.3" r="7.0" fill="#fff"/>
<circle cx="785.4" cy="211.9" r="7.0" fill="#fff"/>
<circle cx="789.9" cy="219" r="7.0" fill="#fff"/>
<circle cx="793.2" cy="223.7" r="7.0" fill="#fff"/>
<circle cx="797.8" cy="208" r="7.0" fill="#fff"/>
<circle cx="801.9" cy="218.2" r="7.0" fill="#fff"/>
<circle cx="806.4" cy="201.7" r="7.0" fill="#fff"/>
<circle cx="810.1" cy="207.2" r="7.0" fill="#fff"/>
<circle cx="814.2" cy="214.3" r="7.0" fill="#fff"/>
<circle cx="818.3" cy="214.3" r="7.0" fill="#fff"/>
<circle cx="822" cy="224.5" r="7.0" fill="#fff"/>
<circle cx="826.2" cy="237.8" r="7.0" fill="#fff"/>
<circle cx="831.1" cy="241" r="7.0" fill="#fff"/>
<circle cx="833.1" cy="224.5" r="7.0" fill="#fff"/>
<circle cx="838.1" cy="222.1" r="7.0" fill="#fff"/>
<circle cx="843.4" cy="226.9" r="7.0" fill="#fff"/>
<circle cx="847.6" cy="219" r="7.0" fill="#fff"/>
<circle cx="852.1" cy="217.4" r="7.0" fill="#fff"/>
<circle cx="855" cy="240.2" r="7.0" fill="#fff"/>
<circle cx="859.5" cy="239.4" r="7.0" fill="#fff"/>
<circle cx="862.8" cy="226.1" r="7.0" fill="#fff"/>
<circle cx="868.1" cy="214.3" r="7.0" fill="#fff"/>
<circle cx="872.7" cy="220.6" r="7.0" fill="#fff"/>
<circle cx="880.1" cy="215.1" r="7.0" fill="#fff"/>
<circle cx="884.2" cy="219" r="7.0" fill="#fff"/>
<circle cx="887.1" cy="215.9" r="7.0" fill="#fff"/>
<circle cx="892" cy="219" r="7.0" fill="#fff"/>
<circle cx="896.5" cy="211.9" r="7.0" fill="#fff"/>
<circle cx="900.6" cy="217.4" r="7.0" fill="#fff"/>
<circle cx="904.8" cy="230" r="7.0" fill="#fff"/>
<circle cx="908.9" cy="248.1" r="7.0" fill="#fff"/>
<circle cx="911.8" cy="261.4" r="7.0" fill="#fff"/>
<circle cx="916.7" cy="272.4" r="7.0" fill="#fff"/>
<circle cx="920.8" cy="270.8" r="7.0" fill="#fff"/>
<circle cx="924.9" cy="257.5" r="7.0" fill="#fff"/>
<circle cx="928.2" cy="253.6" r="7.0" fill="#fff"/>
<circle cx="932.8" cy="251.2" r="7.0" fill="#fff"/>
<circle cx="936.5" cy="240.2" r="7.0" fill="#fff"/>
<circle cx="940.6" cy="228.4" r="7.0" fill="#fff"/>
<circle cx="946.3" cy="232.4" r="7.0" fill="#fff"/>
<circle cx="954.6" cy="242.6" r="7.0" fill="#fff"/>
<circle cx="959.5" cy="224.5" r="7.0" fill="#fff"/>
<circle cx="962" cy="224.5" r="7.0" fill="#fff"/>
<circle cx="966.5" cy="244.9" r="7.0" fill="#fff"/>
<circle cx="971" cy="253.6" r="7.0" fill="#fff"/>
<circle cx="974.7" cy="259.8" r="7.0" fill="#fff"/>
<circle cx="983.4" cy="253.6" r="7.0" fill="#fff"/>
<circle cx="986.7" cy="278.7" r="7.0" fill="#fff"/>
<circle cx="990.4" cy="288.1" r="7.0" fill="#fff"/>
<circle cx="995.7" cy="268.5" r="7.0" fill="#fff"/>
<circle cx="999.4" cy="288.1" r="7.0" fill="#fff"/>
<circle cx="1003.1" cy="292.8" r="7.0" fill="#fff"/>
<circle cx="1008.1" cy="274" r="7.0" fill="#fff"/>
<circle cx="1010.1" cy="301.4" r="7.0" fill="#fff"/>
<circle cx="1015.9" cy="298.3" r="7.0" fill="#fff"/>
<circle cx="1020" cy="308.5" r="7.0" fill="#fff"/>
<circle cx="1024.5" cy="314.8" r="7.0" fill="#fff"/>
<circle cx="1028.7" cy="321.1" r="7.0" fill="#fff"/>
<circle cx="1032.8" cy="311.7" r="7.0" fill="#fff"/>
<circle cx="1036.9" cy="278.7" r="7.0" fill="#fff"/>
<circle cx="1041" cy="286.5" r="7.0" fill="#fff"/>
<circle cx="1045.1" cy="293.6" r="7.0" fill="#fff"/>
<circle cx="1048.8" cy="322.6" r="7.0" fill="#fff"/>
<circle cx="1052.9" cy="343.9" r="7.0" fill="#fff"/>
<circle cx="1055.4" cy="313.2" r="7.0" fill="#fff"/>
<circle cx="1060.8" cy="316.4" r="7.0" fill="#fff"/>
<circle cx="1066.1" cy="310.9" r="7.0" fill="#fff"/>
<circle cx="1073.5" cy="296" r="7.0" fill="#fff"/>
<circle cx="1078.9" cy="306.9" r="7.0" fill="#fff"/>
<circle cx="1082.2" cy="304.6" r="7.0" fill="#fff"/>
<circle cx="1086.7" cy="305.4" r="7.0" fill="#fff"/>
<circle cx="1092" cy="306.9" r="7.0" fill="#fff"/>
<circle cx="1098.2" cy="311.7" r="7.0" fill="#fff"/>
<circle cx="1102.7" cy="292" r="7.0" fill="#fff"/>
<circle cx="1106.9" cy="280.2" r="7.0" fill="#fff"/>
<circle cx="1110.6" cy="315.6" r="7.0" fill="#fff"/>
<circle cx="1114.3" cy="339.9" r="7.0" fill="#fff"/>
<circle cx="1118.8" cy="340.7" r="7.0" fill="#fff"/>
<circle cx="1123.7" cy="343.9" r="7.0" fill="#fff"/>
<circle cx="1131.1" cy="346.2" r="7.0" fill="#fff"/>
<polyline fill="none" stroke="#000" stroke-width="2.0" stroke-linejoin="round" points="126.1,603.4 130.7,603.4 136.9,611.3 139.3,599.5 145.1,594.8 148.4,596.3 153.3,597.9 157,617.6 161.6,618.4 165.7,649.8 169.8,627 172.3,618.4 178,609.7 181.7,615.2 186.3,594.8 189.6,600.3 194.5,595.6 198.6,610.5 202.3,630.1 206.5,650.6 208.9,636.4 212.6,632.5 218.8,627.8 222.9,669.5 227.5,650.6 231.6,639.6 235.7,627 239.4,616 243.5,608.9 246.4,600.3 252.2,591.6 255.1,597.9 258.8,603.4 264.5,627 268.6,604.2 272.8,648.2 276.9,619.9 281,634.9 285.1,614.4 288,665.5 292.9,675 297.1,666.3 299.9,634.9 305.7,633.3 309.4,682.8 314.4,704.8 318.5,675 322.2,652.9 325.1,621.5 330,620.7 334.1,612.8 340.3,698.5 343.2,687.5 347.3,664.7 351,645.1 354.7,641.2 358.4,636.4 363.4,633.3 367.1,616.8 372,617.6 377.8,701.7 379.8,676.5 384,644.3 388.1,623.1 391.8,604.2 396.3,614.4 400.4,605 404.5,594.8 408.7,683.6 413.2,676.5 416.5,614.4 420.6,622.3 425.1,618.4 430.5,694.6 437.5,734.7 442,723.7 445.7,707.2 449.4,667.9 454.4,660.8 458.1,638.8 462.2,717.4 465.1,776.4 470,769.3 474.1,755.9 477.4,777.9 486.5,779.5 490.6,761.4 494.7,754.4 499.3,757.5 501.3,723.7 506.3,723.7 510.8,726.1 514.1,706.4 519.4,715.8 523.6,701.7 528.1,698.5 532.2,694.6 535.5,706.4 540,730.8 544.6,719.8 548.7,706.4"/>
<circle cx="126.1" cy="603.4" r="7.0" fill="#808080"/>
<circle cx="130.7" cy="603.4" r="7.0" fill="#808080"/>
<circle cx="136.9" cy="611.3" r="7.0" fill="#808080"/>
<circle cx="139.3" cy="599.5" r="7.0" fill="#808080"/>
<circle cx="145.1" cy="594.8" r="7.0" fill="#808080"/>
<circle cx="148.4" cy="596.3" r="7.0" fill="#808080"/>
<circle cx="153.3" cy="597.9" r="7.0" fill="#808080"/>
<circle cx="157" cy="617.6" r="7.0" fill="#808080"/>
<circle cx="161.6" cy="618.4" r="7.0" fill="#808080"/>
<circle cx="165.7" cy="649.8" r="7.0" fill="#808080"/>
<circle cx="169.8" cy="627" r="7.0" fill="#808080"/>
<circle cx="172.3" cy="618.4" r="7.0" fill="#808080"/>
<circle cx="178" cy="609.7" r="7.0" fill="#808080"/>
<circle cx="181.7" cy="615.2" r="7.0" fill="#808080"/>
<circle cx="186.3" cy="594.8" r="7.0" fill="#808080"/>
<circle cx="189.6" cy="600.3" r="7.0" fill="#808080"/>
<circle cx="194.5" cy="595.6" r="7.0" fill="#808080"/>
<circle cx="198.6" cy="610.5" r="7.0" fill="#808080"/>
<circle cx="202.3" cy="630.1" r="7.0" fill="#808080"/>
<circle cx="206.5" cy="650.6" r="7.0" fill="#808080"/>
<circle cx="208.9" cy="636.4" r="7.0" fill="#808080"/>
<circle cx="212.6" cy="632.5" r="7.0" fill="#808080"/>
<circle cx="218.8" cy="627.8" r="7.0" fill="#808080"/>
<circle cx="222.9" cy="669.5" r="7.0" fill="#808080"/>
<circle cx="227.5" cy="650.6" r="7.0" fill="#808080"/>
<circle cx="231.6" cy="639.6" r="7.0" fill="#808080"/>
<circle cx="235.7" cy="627" r="7.0" fill="#808080"/>
<circle cx="239.4" cy="616" r="7.0" fill="#808080"/>
<circle cx="243.5" cy="608.9" r="7.0" fill="#808080"/>
<circle cx="246.4" cy="600.3" r="7.0" fill="#808080"/>
<circle cx="252.2" cy="591.6" r="7.0" fill="#808080"/>
<circle cx="255.1" cy="597.9" r="7.0" fill="#808080"/>
<circle cx="258.8" cy="603.4" r="7.0" fill="#808080"/>
<circle cx="264.5" cy="627" r="7.0" fill="#808080"/>
<circle cx="268.6" cy="604.2" r="7.0" fill="#808080"/>
<circle cx="272.8" cy="648.2" r="7.0" fill="#808080"/>
<circle cx="276.9" cy="619.9" r="7.0" fill="#808080"/>
<circle cx="281" cy="634.9" r="7.0" fill="#808080"/>
<circle cx="285.1" cy="614.4" r="7.0" fill="#808080"/>
<circle cx="288" cy="665.5" r="7.0" fill="#808080"/>
<circle cx="292.9" cy="675" r="7.0" fill="#808080"/>
<circle cx="297.1" cy="666.3" r="7.0" fill="#808080"/>
<circle cx="299.9" cy="634.9" r="7.0" fill="#808080"/>
<circle cx="305.7" cy="633.3" r="7.0" fill="#808080"/>
<circle cx="309.4" cy="682.8" r="7.0" fill="#808080"/>
<circle cx="314.4" cy="704.8" r="7.0" fill="#808080"/>
<circle cx="318.5" cy="675" r="7.0" fill="#808080"/>
<circle cx="322.2" cy="652.9" r="7.0" fill="#808080"/>
<circle cx="325.1" cy="621.5" r="7.0" fill="#808080"/>
<circle cx="330" cy="620.7" r="7.0" fill="#808080"/>
<circle cx="334.1" cy="612.8" r="7.0" fill="#808080"/>
<circle cx="340.3" cy="698.5" r="7.0" fill="#808080"/>
<circle cx="343.2" cy="687.5" r="7.0" fill="#808080"/>
<circle cx="347.3" cy="664.7" r="7.0" fill="#808080"/>
<circle cx="351" cy="645.1" r="7.0" fill="#808080"/>
<circle cx="354.7" cy="641.2" r="7.0" fill="#808080"/>
<circle cx="358.4" cy="636.4" r="7.0" fill="#808080"/>
<circle cx="363.4" cy="633.3" r="7.0" fill="#808080"/>
<circle cx="367.1" cy="616.8" r="7.0" fill="#808080"/>
<circle cx="372" cy="617.6" r="7.0" fill="#808080"/>
<circle cx="377.8" cy="701.7" r="7.0" fill="#808080"/>
<circle cx="379.8" cy="676.5" r="7.0" fill="#808080"/>
<circle cx="384" cy="644.3" r="7.0" fill="#808080"/>
<circle cx="388.1" cy="623.1" r="7.0" fill="#808080"/>
<circle cx="391.8" cy="604.2" r="7.0" fill="#808080"/>
<circle cx="396.3" cy="614.4" r="7.0" fill="#808080"/>
<circle cx="400.4" cy="605" r="7.0" fill="#808080"/>
<circle cx="404.5" cy="594.8" r="7.0" fill="#808080"/>
<circle cx="408.7" cy="683.6" r="7.0" fill="#808080"/>
<circle cx="413.2" cy="676.5" r="7.0" fill="#808080"/>
<circle cx="416.5" cy="614.4" r="7.0" fill="#808080"/>
<circle cx="420.6" cy="622.3" r="7.0" fill="#808080"/>
<circle cx="425.1" cy="618.4" r="7.0" fill="#808080"/>
<circle cx="430.5" cy="694.6" r="7.0" fill="#808080"/>
<circle cx="437.5" cy="734.7" r="7.0" fill="#808080"/>
<circle cx="442" cy="723.7" r="7.0" fill="#808080"/>
<circle cx="445.7" cy="707.2" r="7.0" fill="#808080"/>
<circle cx="449.4" cy="667.9" r="7.0" fill="#808080"/>
<circle cx="454.4" cy="660.8" r="7.0" fill="#808080"/>
<circle cx="458.1" cy="638.8" r="7.0" fill="#808080"/>
<circle cx="462.2" cy="717.4" r="7.0" fill="#808080"/>
<circle cx="465.1" cy="776.4" r="7.0" fill="#808080"/>
<circle cx="470" cy="769.3" r="7.0" fill="#808080"/>
<circle cx="474.1" cy="755.9" r="7.0" fill="#808080"/>
<circle cx="477.4" cy="777.9" r="7.0" fill="#808080"/>
<circle cx="486.5" cy="779.5" r="7.0" fill="#808080"/>
<circle cx="490.6" cy="761.4" r="7.0" fill="#808080"/>
<circle cx="494.7" cy="754.4" r="7.0" fill="#808080"/>
<circle cx="499.3" cy="757.5" r="7.0" fill="#808080"/>
<circle cx="501.3" cy="723.7" r="7.0" fill="#808080"/>
<circle cx="506.3" cy="723.7" r="7.0" fill="#808080"/>
<circle cx="510.8" cy="726.1" r="7.0" fill="#808080"/>
<circle cx="514.1" cy="706.4" r="7.0" fill="#808080"/>
<circle cx="519.4" cy="715.8" r="7.0" fill="#808080"/>
<circle cx="523.6" cy="701.7" r="7.0" fill="#808080"/>
<circle cx="528.1" cy="698.5" r="7.0" fill="#808080"/>
<circle cx="532.2" cy="694.6" r="7.0" fill="#808080"/>
<circle cx="535.5" cy="706.4" r="7.0" fill="#808080"/>
<circle cx="540" cy="730.8" r="7.0" fill="#808080"/>
<circle cx="544.6" cy="719.8" r="7.0" fill="#808080"/>
<circle cx="548.7" cy="706.4" r="7.0" fill="#808080"/>
<polyline fill="none" stroke="#000" stroke-width="2.0" stroke-linejoin="round" points="126.1,699.3 130.7,697 136.4,709.5 140.6,696.2 144.3,702.5 149.6,710.3 152.9,690.7 156.6,699.3 161.6,700.9 165.3,692.3 169.4,694.6 173.5,700.9 177.2,704.8 181.7,702.5 185.5,692.3 188.3,687.5 193.3,682.8 198.2,679.7 202.7,684.4 206.5,704.8 211,717.4 213.9,706.4 218.8,691.5 222.9,710.3 227,723.7 231.6,726.8 235.7,709.5 239.4,710.3 243.5,701.7 247.2,696.2 251.8,686 255.1,689.1 259.2,689.9 263.7,690.7 266.6,711.1 272.8,721.3 276.5,701.7 280.2,707.2 285.1,714.3 287.6,726.8 291.7,730 297.1,732.3 300.8,725.3 305.7,717.4 309.4,740.2 313.1,729.2 318.1,723.7 322.2,730 325.9,719.8 330.4,701.7 334.1,707.2 337.8,737.9 341.1,737.1 344.8,730.8 348.1,725.3 351,719 354.7,741 358.8,738.6 363.4,737.9 367.1,730 371.6,701.7 375.7,723.7 379.8,737.9 383.1,727.6 388.5,724.5 392.2,709.5 395.5,696.2 399.6,693.8 404.1,696.2 407.8,735.5 412.8,742.6 416.5,729.2 421.4,701.7 424.7,721.3 428.8,736.3 432.6,777.9 437.1,789 441.2,778.7 445.3,752.8 449.8,741.8 454,734.7 458.1,727.6 461.4,789.7 465.1,796 470,799.2 474.1,785.8 477.4,791.3 482.4,795.2 486.5,792.9 490.6,790.5 495.2,789.7 499.3,788.2 503,783.5 507.1,796 510.8,790.5 514.9,791.3 518.6,782.7 524.4,770.9 528.1,786.6 532.6,786.6 535.9,799.2 539.6,814.1 544.2,823.5 548.3,816.5"/>
<circle cx="126.1" cy="699.3" r="7.0" fill="#fff"/>
<circle cx="130.7" cy="697" r="7.0" fill="#fff"/>
<circle cx="136.4" cy="709.5" r="7.0" fill="#fff"/>
<circle cx="140.6" cy="696.2" r="7.0" fill="#fff"/>
<circle cx="144.3" cy="702.5" r="7.0" fill="#fff"/>
<circle cx="149.6" cy="710.3" r="7.0" fill="#fff"/>
<circle cx="152.9" cy="690.7" r="7.0" fill="#fff"/>
<circle cx="156.6" cy="699.3" r="7.0" fill="#fff"/>
<circle cx="161.6" cy="700.9" r="7.0" fill="#fff"/>
<circle cx="165.3" cy="692.3" r="7.0" fill="#fff"/>
<circle cx="169.4" cy="694.6" r="7.0" fill="#fff"/>
<circle cx="173.5" cy="700.9" r="7.0" fill="#fff"/>
<circle cx="177.2" cy="704.8" r="7.0" fill="#fff"/>
<circle cx="181.7" cy="702.5" r="7.0" fill="#fff"/>
<circle cx="185.5" cy="692.3" r="7.0" fill="#fff"/>
<circle cx="188.3" cy="687.5" r="7.0" fill="#fff"/>
<circle cx="193.3" cy="682.8" r="7.0" fill="#fff"/>
<circle cx="198.2" cy="679.7" r="7.0" fill="#fff"/>
<circle cx="202.7" cy="684.4" r="7.0" fill="#fff"/>
<circle cx="206.5" cy="704.8" r="7.0" fill="#fff"/>
<circle cx="211" cy="717.4" r="7.0" fill="#fff"/>
<circle cx="213.9" cy="706.4" r="7.0" fill="#fff"/>
<circle cx="218.8" cy="691.5" r="7.0" fill="#fff"/>
<circle cx="222.9" cy="710.3" r="7.0" fill="#fff"/>
<circle cx="227" cy="723.7" r="7.0" fill="#fff"/>
<circle cx="231.6" cy="726.8" r="7.0" fill="#fff"/>
<circle cx="235.7" cy="709.5" r="7.0" fill="#fff"/>
<circle cx="239.4" cy="710.3" r="7.0" fill="#fff"/>
<circle cx="243.5" cy="701.7" r="7.0" fill="#fff"/>
<circle cx="247.2" cy="696.2" r="7.0" fill="#fff"/>
<circle cx="251.8" cy="686" r="7.0" fill="#fff"/>
<circle cx="255.1" cy="689.1" r="7.0" fill="#fff"/>
<circle cx="259.2" cy="689.9" r="7.0" fill="#fff"/>
<circle cx="263.7" cy="690.7" r="7.0" fill="#fff"/>
<circle cx="266.6" cy="711.1" r="7.0" fill="#fff"/>
<circle cx="272.8" cy="721.3" r="7.0" fill="#fff"/>
<circle cx="276.5" cy="701.7" r="7.0" fill="#fff"/>
<circle cx="280.2" cy="707.2" r="7.0" fill="#fff"/>
<circle cx="285.1" cy="714.3" r="7.0" fill="#fff"/>
<circle cx="287.6" cy="726.8" r="7.0" fill="#fff"/>
<circle cx="291.7" cy="730" r="7.0" fill="#fff"/>
<circle cx="297.1" cy="732.3" r="7.0" fill="#fff"/>
<circle cx="300.8" cy="725.3" r="7.0" fill="#fff"/>
<circle cx="305.7" cy="717.4" r="7.0" fill="#fff"/>
<circle cx="309.4" cy="740.2" r="7.0" fill="#fff"/>
<circle cx="313.1" cy="729.2" r="7.0" fill="#fff"/>
<circle cx="318.1" cy="723.7" r="7.0" fill="#fff"/>
<circle cx="322.2" cy="730" r="7.0" fill="#fff"/>
<circle cx="325.9" cy="719.8" r="7.0" fill="#fff"/>
<circle cx="330.4" cy="701.7" r="7.0" fill="#fff"/>
<circle cx="334.1" cy="707.2" r="7.0" fill="#fff"/>
<circle cx="337.8" cy="737.9" r="7.0" fill="#fff"/>
<circle cx="341.1" cy="737.1" r="7.0" fill="#fff"/>
<circle cx="344.8" cy="730.8" r="7.0" fill="#fff"/>
<circle cx="348.1" cy="725.3" r="7.0" fill="#fff"/>
<circle cx="351" cy="719" r="7.0" fill="#fff"/>
<circle cx="354.7" cy="741" r="7.0" fill="#fff"/>
<circle cx="358.8" cy="738.6" r="7.0" fill="#fff"/>
<circle cx="363.4" cy="737.9" r="7.0" fill="#fff"/>
<circle cx="367.1" cy="730" r="7.0" fill="#fff"/>
<circle cx="371.6" cy="701.7" r="7.0" fill="#fff"/>
<circle cx="375.7" cy="723.7" r="7.0" fill="#fff"/>
<circle cx="379.8" cy="737.9" r="7.0" fill="#fff"/>
<circle cx="383.1" cy="727.6" r="7.0" fill="#fff"/>
<circle cx="388.5" cy="724.5" r="7.0" fill="#fff"/>
<circle cx="392.2" cy="709.5" r="7.0" fill="#fff"/>
<circle cx="395.5" cy="696.2" r="7.0" fill="#fff"/>
<circle cx="399.6" cy="693.8" r="7.0" fill="#fff"/>
<circle cx="404.1" cy="696.2" r="7.0" fill="#fff"/>
<circle cx="407.8" cy="735.5" r="7.0" fill="#fff"/>
<circle cx="412.8" cy="742.6" r="7.0" fill="#fff"/>
<circle cx="416.5" cy="729.2" r="7.0" fill="#fff"/>
<circle cx="421.4" cy="701.7" r="7.0" fill="#fff"/>
<circle cx="424.7" cy="721.3" r="7.0" fill="#fff"/>
<circle cx="428.8" cy="736.3" r="7.0" fill="#fff"/>
<circle cx="432.6" cy="777.9" r="7.0" fill="#fff"/>
<circle cx="437.1" cy="789" r="7.0" fill="#fff"/>
<circle cx="441.2" cy="778.7" r="7.0" fill="#fff"/>
<circle cx="445.3" cy="752.8" r="7.0" fill="#fff"/>
<circle cx="449.8" cy="741.8" r="7.0" fill="#fff"/>
<circle cx="454" cy="734.7" r="7.0" fill="#fff"/>
<circle cx="458.1" cy="727.6" r="7.0" fill="#fff"/>
<circle cx="461.4" cy="789.7" r="7.0" fill="#fff"/>
<circle cx="465.1" cy="796" r="7.0" fill="#fff"/>
<circle cx="470" cy="799.2" r="7.0" fill="#fff"/>
<circle cx="474.1" cy="785.8" r="7.0" fill="#fff"/>
<circle cx="477.4" cy="791.3" r="7.0" fill="#fff"/>
<circle cx="482.4" cy="795.2" r="7.0" fill="#fff"/>
<circle cx="486.5" cy="792.9" r="7.0" fill="#fff"/>
<circle cx="490.6" cy="790.5" r="7.0" fill="#fff"/>
<circle cx="495.2" cy="789.7" r="7.0" fill="#fff"/>
<circle cx="499.3" cy="788.2" r="7.0" fill="#fff"/>
<circle cx="503" cy="783.5" r="7.0" fill="#fff"/>
<circle cx="507.1" cy="796" r="7.0" fill="#fff"/>
<circle cx="510.8" cy="790.5" r="7.0" fill="#fff"/>
<circle cx="514.9" cy="791.3" r="7.0" fill="#fff"/>
<circle cx="518.6" cy="782.7" r="7.0" fill="#fff"/>
<circle cx="524.4" cy="770.9" r="7.0" fill="#fff"/>
<circle cx="528.1" cy="786.6" r="7.0" fill="#fff"/>
<circle cx="532.6" cy="786.6" r="7.0" fill="#fff"/>
<circle cx="535.9" cy="799.2" r="7.0" fill="#fff"/>
<circle cx="539.6" cy="814.1" r="7.0" fill="#fff"/>
<circle cx="544.2" cy="823.5" r="7.0" fill="#fff"/>
<circle cx="548.3" cy="816.5" r="7.0" fill="#fff"/>
<polyline fill="none" stroke="#000" stroke-width="2.0" stroke-linejoin="round" points="705.6,630.2 710.9,614.5 715,619.2 719.6,628.6 723.3,615.3 727.8,629.4 731.5,614.5 736.4,616.1 740.5,612.9 743.8,607.4 747.5,611.4 751.7,620 756.6,618.4 760.7,650.6 765.2,662.4 768.1,638.9 773.1,631.8 777.2,642.8 781.7,637.3 785.4,623.1 789.1,623.9 793.6,623.9 796.1,623.9 801.9,614.5 806,619.2 809.3,627.9 814.6,630.2 818.3,672.7 823.3,678.2 827,685.2 830.3,633.4 834.8,620.8 838.9,623.9 843.8,628.6 846.3,646.7 850.8,661.7 855.8,639.6 859.1,660.9 864,676.6 866.9,661.7 871.8,647.5 874.7,658.5 879.7,657.7 884.6,655.4 888.3,645.1 892.4,639.6 896.5,624.7 901.5,627.9 905.2,650.6 910.1,682.9 913.8,689.2 918.8,674.2 925.3,669.5 929.5,665.6 933.2,661.7 937.7,644.4 941.8,635.7 945.9,667.2 950.5,682.9 954.2,655.4 958.3,627.9 962.4,620 966.9,655.4 970.6,687.6 974.7,700.2 979.3,701.7 983,663.2 987.1,692.3 995.6,710.4 999.4,681.3 1003.5,670.3 1007.7,673.4 1011.4,682.9 1015.9,682.9 1020,682.9 1024.1,683.7 1028.7,685.2 1032.4,675 1036.5,667.2 1040.2,712.7 1045.5,759.9 1048.4,722.2 1052.9,713.5 1057.1,747.3 1061.6,772.5 1067.8,770.1 1073.5,767.8 1078,724.5 1082.2,745.8 1087.1,766.2 1092.9,779.6 1098.2,760.7 1100.3,768.5 1106,718.2 1108.9,708.8 1114.7,712.7 1118,699.4 1122.9,691.5 1127.4,697.8 1131.5,699.4 1135.7,712.7"/>
<circle cx="705.6" cy="630.2" r="7.0" fill="#808080"/>
<circle cx="710.9" cy="614.5" r="7.0" fill="#808080"/>
<circle cx="715" cy="619.2" r="7.0" fill="#808080"/>
<circle cx="719.6" cy="628.6" r="7.0" fill="#808080"/>
<circle cx="723.3" cy="615.3" r="7.0" fill="#808080"/>
<circle cx="727.8" cy="629.4" r="7.0" fill="#808080"/>
<circle cx="731.5" cy="614.5" r="7.0" fill="#808080"/>
<circle cx="736.4" cy="616.1" r="7.0" fill="#808080"/>
<circle cx="740.5" cy="612.9" r="7.0" fill="#808080"/>
<circle cx="743.8" cy="607.4" r="7.0" fill="#808080"/>
<circle cx="747.5" cy="611.4" r="7.0" fill="#808080"/>
<circle cx="751.7" cy="620" r="7.0" fill="#808080"/>
<circle cx="756.6" cy="618.4" r="7.0" fill="#808080"/>
<circle cx="760.7" cy="650.6" r="7.0" fill="#808080"/>
<circle cx="765.2" cy="662.4" r="7.0" fill="#808080"/>
<circle cx="768.1" cy="638.9" r="7.0" fill="#808080"/>
<circle cx="773.1" cy="631.8" r="7.0" fill="#808080"/>
<circle cx="777.2" cy="642.8" r="7.0" fill="#808080"/>
<circle cx="781.7" cy="637.3" r="7.0" fill="#808080"/>
<circle cx="785.4" cy="623.1" r="7.0" fill="#808080"/>
<circle cx="789.1" cy="623.9" r="7.0" fill="#808080"/>
<circle cx="793.6" cy="623.9" r="7.0" fill="#808080"/>
<circle cx="796.1" cy="623.9" r="7.0" fill="#808080"/>
<circle cx="801.9" cy="614.5" r="7.0" fill="#808080"/>
<circle cx="806" cy="619.2" r="7.0" fill="#808080"/>
<circle cx="809.3" cy="627.9" r="7.0" fill="#808080"/>
<circle cx="814.6" cy="630.2" r="7.0" fill="#808080"/>
<circle cx="818.3" cy="672.7" r="7.0" fill="#808080"/>
<circle cx="823.3" cy="678.2" r="7.0" fill="#808080"/>
<circle cx="827" cy="685.2" r="7.0" fill="#808080"/>
<circle cx="830.3" cy="633.4" r="7.0" fill="#808080"/>
<circle cx="834.8" cy="620.8" r="7.0" fill="#808080"/>
<circle cx="838.9" cy="623.9" r="7.0" fill="#808080"/>
<circle cx="843.8" cy="628.6" r="7.0" fill="#808080"/>
<circle cx="846.3" cy="646.7" r="7.0" fill="#808080"/>
<circle cx="850.8" cy="661.7" r="7.0" fill="#808080"/>
<circle cx="855.8" cy="639.6" r="7.0" fill="#808080"/>
<circle cx="859.1" cy="660.9" r="7.0" fill="#808080"/>
<circle cx="864" cy="676.6" r="7.0" fill="#808080"/>
<circle cx="866.9" cy="661.7" r="7.0" fill="#808080"/>
<circle cx="871.8" cy="647.5" r="7.0" fill="#808080"/>
<circle cx="874.7" cy="658.5" r="7.0" fill="#808080"/>
<circle cx="879.7" cy="657.7" r="7.0" fill="#808080"/>
<circle cx="884.6" cy="655.4" r="7.0" fill="#808080"/>
<circle cx="888.3" cy="645.1" r="7.0" fill="#808080"/>
<circle cx="892.4" cy="639.6" r="7.0" fill="#808080"/>
<circle cx="896.5" cy="624.7" r="7.0" fill="#808080"/>
<circle cx="901.5" cy="627.9" r="7.0" fill="#808080"/>
<circle cx="905.2" cy="650.6" r="7.0" fill="#808080"/>
<circle cx="910.1" cy="682.9" r="7.0" fill="#808080"/>
<circle cx="913.8" cy="689.2" r="7.0" fill="#808080"/>
<circle cx="918.8" cy="674.2" r="7.0" fill="#808080"/>
<circle cx="925.3" cy="669.5" r="7.0" fill="#808080"/>
<circle cx="929.5" cy="665.6" r="7.0" fill="#808080"/>
<circle cx="933.2" cy="661.7" r="7.0" fill="#808080"/>
<circle cx="937.7" cy="644.4" r="7.0" fill="#808080"/>
<circle cx="941.8" cy="635.7" r="7.0" fill="#808080"/>
<circle cx="945.9" cy="667.2" r="7.0" fill="#808080"/>
<circle cx="950.5" cy="682.9" r="7.0" fill="#808080"/>
<circle cx="954.2" cy="655.4" r="7.0" fill="#808080"/>
<circle cx="958.3" cy="627.9" r="7.0" fill="#808080"/>
<circle cx="962.4" cy="620" r="7.0" fill="#808080"/>
<circle cx="966.9" cy="655.4" r="7.0" fill="#808080"/>
<circle cx="970.6" cy="687.6" r="7.0" fill="#808080"/>
<circle cx="974.7" cy="700.2" r="7.0" fill="#808080"/>
<circle cx="979.3" cy="701.7" r="7.0" fill="#808080"/>
<circle cx="983" cy="663.2" r="7.0" fill="#808080"/>
<circle cx="987.1" cy="692.3" r="7.0" fill="#808080"/>
<circle cx="995.6" cy="710.4" r="7.0" fill="#808080"/>
<circle cx="999.4" cy="681.3" r="7.0" fill="#808080"/>
<circle cx="1003.5" cy="670.3" r="7.0" fill="#808080"/>
<circle cx="1007.7" cy="673.4" r="7.0" fill="#808080"/>
<circle cx="1011.4" cy="682.9" r="7.0" fill="#808080"/>
<circle cx="1015.9" cy="682.9" r="7.0" fill="#808080"/>
<circle cx="1020" cy="682.9" r="7.0" fill="#808080"/>
<circle cx="1024.1" cy="683.7" r="7.0" fill="#808080"/>
<circle cx="1028.7" cy="685.2" r="7.0" fill="#808080"/>
<circle cx="1032.4" cy="675" r="7.0" fill="#808080"/>
<circle cx="1036.5" cy="667.2" r="7.0" fill="#808080"/>
<circle cx="1040.2" cy="712.7" r="7.0" fill="#808080"/>
<circle cx="1045.5" cy="759.9" r="7.0" fill="#808080"/>
<circle cx="1048.4" cy="722.2" r="7.0" fill="#808080"/>
<circle cx="1052.9" cy="713.5" r="7.0" fill="#808080"/>
<circle cx="1057.1" cy="747.3" r="7.0" fill="#808080"/>
<circle cx="1061.6" cy="772.5" r="7.0" fill="#808080"/>
<circle cx="1067.8" cy="770.1" r="7.0" fill="#808080"/>
<circle cx="1073.5" cy="767.8" r="7.0" fill="#808080"/>
<circle cx="1078" cy="724.5" r="7.0" fill="#808080"/>
<circle cx="1082.2" cy="745.8" r="7.0" fill="#808080"/>
<circle cx="1087.1" cy="766.2" r="7.0" fill="#808080"/>
<circle cx="1092.9" cy="779.6" r="7.0" fill="#808080"/>
<circle cx="1098.2" cy="760.7" r="7.0" fill="#808080"/>
<circle cx="1100.3" cy="768.5" r="7.0" fill="#808080"/>
<circle cx="1106" cy="718.2" r="7.0" fill="#808080"/>
<circle cx="1108.9" cy="708.8" r="7.0" fill="#808080"/>
<circle cx="1114.7" cy="712.7" r="7.0" fill="#808080"/>
<circle cx="1118" cy="699.4" r="7.0" fill="#808080"/>
<circle cx="1122.9" cy="691.5" r="7.0" fill="#808080"/>
<circle cx="1127.4" cy="697.8" r="7.0" fill="#808080"/>
<circle cx="1131.5" cy="699.4" r="7.0" fill="#808080"/>
<circle cx="1135.7" cy="712.7" r="7.0" fill="#808080"/>
<polyline fill="none" stroke="#000" stroke-width="2.0" stroke-linejoin="round" points="706.8,701 710.9,695.5 715,690 719.6,708.8 722.4,694.7 727.8,683.7 731.5,693.9 736,686.8 739.7,682.9 743,683.7 748,692.3 751.7,688.4 756.6,678.9 759.5,708 764.4,719 766.5,704.1 773.1,699.4 776.8,709.6 780.5,713.5 785.4,714.3 789.5,715.9 792.8,700.2 797.8,700.2 799.8,689.2 804.7,689.2 809.7,686.8 814.6,699.4 818.3,714.3 823.3,705.7 827,705.7 830.3,721.4 834.4,704.1 838.9,686.8 841.4,697.8 846.3,697.8 851.3,697.8 855,707.2 859.5,723 864,717.5 869,704.1 873.9,705.7 878.8,705.7 883.4,707.2 888.3,708 892.4,700.2 896.5,695.5 900.6,692.3 905.2,706.5 909.7,730.8 913.4,735.5 917.5,761.5 921.2,751.3 927,735.5 929.9,732.4 933.2,726.1 938.1,710.4 941.4,701 945.9,707.2 948,715.9 954.2,722.2 957.9,707.2 961.2,708.8 966.9,710.4 968.6,723.7 972.3,728.5 976,731.6 983,729.2 986.3,752 991.2,768.5 994.9,763.8 999.8,748.1 1007.7,752.8 1011.4,764.6 1016.3,764.6 1020,770.9 1023.7,775.6 1028.7,784.3 1031.5,777.2 1036.1,764.6 1041,767 1045.1,777.2 1048,787.4 1052.9,807.1 1057.1,784.3 1060.3,792.1 1065.3,792.9 1069.8,788.2 1073.5,782.7 1078,779.6 1081.3,771.7 1085,792.1 1089.6,794.5 1094.1,796.8 1098.6,789 1102.7,781.1 1106,772.5 1111.4,762.3 1114.7,798.4 1118,804.7 1122.9,803.1 1127.4,803.1 1131.5,804.7 1135.7,807.1"/>
<circle cx="706.8" cy="701" r="7.0" fill="#fff"/>
<circle cx="710.9" cy="695.5" r="7.0" fill="#fff"/>
<circle cx="715" cy="690" r="7.0" fill="#fff"/>
<circle cx="719.6" cy="708.8" r="7.0" fill="#fff"/>
<circle cx="722.4" cy="694.7" r="7.0" fill="#fff"/>
<circle cx="727.8" cy="683.7" r="7.0" fill="#fff"/>
<circle cx="731.5" cy="693.9" r="7.0" fill="#fff"/>
<circle cx="736" cy="686.8" r="7.0" fill="#fff"/>
<circle cx="739.7" cy="682.9" r="7.0" fill="#fff"/>
<circle cx="743" cy="683.7" r="7.0" fill="#fff"/>
<circle cx="748" cy="692.3" r="7.0" fill="#fff"/>
<circle cx="751.7" cy="688.4" r="7.0" fill="#fff"/>
<circle cx="756.6" cy="678.9" r="7.0" fill="#fff"/>
<circle cx="759.5" cy="708" r="7.0" fill="#fff"/>
<circle cx="764.4" cy="719" r="7.0" fill="#fff"/>
<circle cx="766.5" cy="704.1" r="7.0" fill="#fff"/>
<circle cx="773.1" cy="699.4" r="7.0" fill="#fff"/>
<circle cx="776.8" cy="709.6" r="7.0" fill="#fff"/>
<circle cx="780.5" cy="713.5" r="7.0" fill="#fff"/>
<circle cx="785.4" cy="714.3" r="7.0" fill="#fff"/>
<circle cx="789.5" cy="715.9" r="7.0" fill="#fff"/>
<circle cx="792.8" cy="700.2" r="7.0" fill="#fff"/>
<circle cx="797.8" cy="700.2" r="7.0" fill="#fff"/>
<circle cx="799.8" cy="689.2" r="7.0" fill="#fff"/>
<circle cx="804.7" cy="689.2" r="7.0" fill="#fff"/>
<circle cx="809.7" cy="686.8" r="7.0" fill="#fff"/>
<circle cx="814.6" cy="699.4" r="7.0" fill="#fff"/>
<circle cx="818.3" cy="714.3" r="7.0" fill="#fff"/>
<circle cx="823.3" cy="705.7" r="7.0" fill="#fff"/>
<circle cx="827" cy="705.7" r="7.0" fill="#fff"/>
<circle cx="830.3" cy="721.4" r="7.0" fill="#fff"/>
<circle cx="834.4" cy="704.1" r="7.0" fill="#fff"/>
<circle cx="838.9" cy="686.8" r="7.0" fill="#fff"/>
<circle cx="841.4" cy="697.8" r="7.0" fill="#fff"/>
<circle cx="846.3" cy="697.8" r="7.0" fill="#fff"/>
<circle cx="851.3" cy="697.8" r="7.0" fill="#fff"/>
<circle cx="855" cy="707.2" r="7.0" fill="#fff"/>
<circle cx="859.5" cy="723" r="7.0" fill="#fff"/>
<circle cx="864" cy="717.5" r="7.0" fill="#fff"/>
<circle cx="869" cy="704.1" r="7.0" fill="#fff"/>
<circle cx="873.9" cy="705.7" r="7.0" fill="#fff"/>
<circle cx="878.8" cy="705.7" r="7.0" fill="#fff"/>
<circle cx="883.4" cy="707.2" r="7.0" fill="#fff"/>
<circle cx="888.3" cy="708" r="7.0" fill="#fff"/>
<circle cx="892.4" cy="700.2" r="7.0" fill="#fff"/>
<circle cx="896.5" cy="695.5" r="7.0" fill="#fff"/>
<circle cx="900.6" cy="692.3" r="7.0" fill="#fff"/>
<circle cx="905.2" cy="706.5" r="7.0" fill="#fff"/>
<circle cx="909.7" cy="730.8" r="7.0" fill="#fff"/>
<circle cx="913.4" cy="735.5" r="7.0" fill="#fff"/>
<circle cx="917.5" cy="761.5" r="7.0" fill="#fff"/>
<circle cx="921.2" cy="751.3" r="7.0" fill="#fff"/>
<circle cx="927" cy="735.5" r="7.0" fill="#fff"/>
<circle cx="929.9" cy="732.4" r="7.0" fill="#fff"/>
<circle cx="933.2" cy="726.1" r="7.0" fill="#fff"/>
<circle cx="938.1" cy="710.4" r="7.0" fill="#fff"/>
<circle cx="941.4" cy="701" r="7.0" fill="#fff"/>
<circle cx="945.9" cy="707.2" r="7.0" fill="#fff"/>
<circle cx="948" cy="715.9" r="7.0" fill="#fff"/>
<circle cx="954.2" cy="722.2" r="7.0" fill="#fff"/>
<circle cx="957.9" cy="707.2" r="7.0" fill="#fff"/>
<circle cx="961.2" cy="708.8" r="7.0" fill="#fff"/>
<circle cx="966.9" cy="710.4" r="7.0" fill="#fff"/>
<circle cx="968.6" cy="723.7" r="7.0" fill="#fff"/>
<circle cx="972.3" cy="728.5" r="7.0" fill="#fff"/>
<circle cx="976" cy="731.6" r="7.0" fill="#fff"/>
<circle cx="983" cy="729.2" r="7.0" fill="#fff"/>
<circle cx="986.3" cy="752" r="7.0" fill="#fff"/>
<circle cx="991.2" cy="768.5" r="7.0" fill="#fff"/>
<circle cx="994.9" cy="763.8" r="7.0" fill="#fff"/>
<circle cx="999.8" cy="748.1" r="7.0" fill="#fff"/>
<circle cx="1007.7" cy="752.8" r="7.0" fill="#fff"/>
<circle cx="1011.4" cy="764.6" r="7.0" fill="#fff"/>
<circle cx="1016.3" cy="764.6" r="7.0" fill="#fff"/>
<circle cx="1020" cy="770.9" r="7.0" fill="#fff"/>
<circle cx="1023.7" cy="775.6" r="7.0" fill="#fff"/>
<circle cx="1028.7" cy="784.3" r="7.0" fill="#fff"/>
<circle cx="1031.5" cy="777.2" r="7.0" fill="#fff"/>
<circle cx="1036.1" cy="764.6" r="7.0" fill="#fff"/>
<circle cx="1041" cy="767" r="7.0" fill="#fff"/>
<circle cx="1045.1" cy="777.2" r="7.0" fill="#fff"/>
<circle cx="1048" cy="787.4" r="7.0" fill="#fff"/>
<circle cx="1052.9" cy="807.1" r="7.0" fill="#fff"/>
<circle cx="1057.1" cy="784.3" r="7.0" fill="#fff"/>
<circle cx="1060.3" cy="792.1" r="7.0" fill="#fff"/>
<circle cx="1065.3" cy="792.9" r="7.0" fill="#fff"/>
<circle cx="1069.8" cy="788.2" r="7.0" fill="#fff"/>
<circle cx="1073.5" cy="782.7" r="7.0" fill="#fff"/>
<circle cx="1078" cy="779.6" r="7.0" fill="#fff"/>
<circle cx="1081.3" cy="771.7" r="7.0" fill="#fff"/>
<circle cx="1085" cy="792.1" r="7.0" fill="#fff"/>
<circle cx="1089.6" cy="794.5" r="7.0" fill="#fff"/>
<circle cx="1094.1" cy="796.8" r="7.0" fill="#fff"/>
<circle cx="1098.6" cy="789" r="7.0" fill="#fff"/>
<circle cx="1102.7" cy="781.1" r="7.0" fill="#fff"/>
<circle cx="1106" cy="772.5" r="7.0" fill="#fff"/>
<circle cx="1111.4" cy="762.3" r="7.0" fill="#fff"/>
<circle cx="1114.7" cy="798.4" r="7.0" fill="#fff"/>
<circle cx="1118" cy="804.7" r="7.0" fill="#fff"/>
<circle cx="1122.9" cy="803.1" r="7.0" fill="#fff"/>
<circle cx="1127.4" cy="803.1" r="7.0" fill="#fff"/>
<circle cx="1131.5" cy="804.7" r="7.0" fill="#fff"/>
<circle cx="1135.7" cy="807.1" r="7.0" fill="#fff"/>
<polyline fill="none" stroke="#000" stroke-width="2.0" stroke-linejoin="round" points="129,1068.6 132.4,1111.4 136.5,1072.5 141.5,1102.3 144.8,1167.2 149.7,1095.9 153.8,1146.4 158,1163.3 162.1,1115.3 166.2,1317.6 170.3,1333.2 174.4,1169.8 177.7,1108.8 181.8,1143.8 186.8,1116.6 190.9,1090.7 195,1104.9 199.1,1156.8 202.4,1331.9 206.5,1141.2 210.7,1295.5 214.8,1296.8 218.9,1252.8 223.8,1289.1 227.9,1203.5 231.2,1232 235.4,1165.9 240.3,1147.7 243.6,1119.2 248.1,1097.2 252.2,1156.8 256.4,1098.5 260.5,1130.9 264.6,1185.3 268.7,1099.8 272.8,1206.1 276.9,1149 281.1,1181.4 285.6,1111.4 289.7,1296.8 293,1272.2 297.5,1267 301.7,1241.1 305.4,1313.7 309.9,1278.7 314,1347.4 318.1,1321.5 322.2,1194.4 325.9,1156.8 330.5,1241.1 334.6,1238.5 338.7,1305.9 342.8,1298.1 346.9,1251.5 351.1,1208.7 355.6,1119.2 360.5,1146.4 363,1137.4 367.9,1156.8 372.1,1305.9 376.2,1359.1 379.9,1303.3 384,1232 388.1,1217.7 391.4,1189.2 396.4,1177.5 400.5,1158.1 404.6,1296.8 408.7,1324.1 412.8,1242.4 416.9,1206.1 421.1,1145.1 425.2,1321.5 429.3,1360.4 433.4,1359.1 437.5,1334.4 441.6,1283.9 445.8,1320.2 449.9,1224.2 454,1283.9 458.1,1241.1 462.2,1335.4 466.4,1335.7 470.5,1336.4 474.6,1337 478.7,1337 482.8,1337.7 486.9,1338.3 491.1,1338.3 495.2,1340.3 499.7,1213.9 503,1228.1 507.5,1340.9 511.6,1340.3 515.8,1239.8 519.9,1272.2 524,1233.3 528.1,1210 532.2,1208.7 535.9,1220.3 540.5,1226.8 544.6,1198.3 548.3,1207.4"/>
<use href="#tri" x="129" y="1068.6"/>
<use href="#tri" x="132.4" y="1111.4"/>
<use href="#tri" x="136.5" y="1072.5"/>
<use href="#tri" x="141.5" y="1102.3"/>
<use href="#tri" x="144.8" y="1167.2"/>
<use href="#tri" x="149.7" y="1095.9"/>
<use href="#tri" x="153.8" y="1146.4"/>
<use href="#tri" x="158" y="1163.3"/>
<use href="#tri" x="162.1" y="1115.3"/>
<use href="#tri" x="166.2" y="1317.6"/>
<use href="#tri" x="170.3" y="1333.2"/>
<use href="#tri" x="174.4" y="1169.8"/>
<use href="#tri" x="177.7" y="1108.8"/>
<use href="#tri" x="181.8" y="1143.8"/>
<use href="#tri" x="186.8" y="1116.6"/>
<use href="#tri" x="190.9" y="1090.7"/>
<use href="#tri" x="195" y="1104.9"/>
<use href="#tri" x="199.1" y="1156.8"/>
<use href="#tri" x="202.4" y="1331.9"/>
<use href="#tri" x="206.5" y="1141.2"/>
<use href="#tri" x="210.7" y="1295.5"/>
<use href="#tri" x="214.8" y="1296.8"/>
<use href="#tri" x="218.9" y="1252.8"/>
<use href="#tri" x="223.8" y="1289.1"/>
<use href="#tri" x="227.9" y="1203.5"/>
<use href="#tri" x="231.2" y="1232"/>
<use href="#tri" x="235.4" y="1165.9"/>
<use href="#tri" x="240.3" y="1147.7"/>
<use href="#tri" x="243.6" y="1119.2"/>
<use href="#tri" x="248.1" y="1097.2"/>
<use href="#tri" x="252.2" y="1156.8"/>
<use href="#tri" x="256.4" y="1098.5"/>
<use href="#tri" x="260.5" y="1130.9"/>
<use href="#tri" x="264.6" y="1185.3"/>
<use href="#tri" x="268.7" y="1099.8"/>
<use href="#tri" x="272.8" y="1206.1"/>
<use href="#tri" x="276.9" y="1149"/>
<use href="#tri" x="281.1" y="1181.4"/>
<use href="#tri" x="285.6" y="1111.4"/>
<use href="#tri" x="289.7" y="1296.8"/>
<use href="#tri" x="293" y="1272.2"/>
<use href="#tri" x="297.5" y="1267"/>
<use href="#tri" x="301.7" y="1241.1"/>
<use href="#tri" x="305.4" y="1313.7"/>
<use href="#tri" x="309.9" y="1278.7"/>
<use href="#tri" x="314" y="1347.4"/>
<use href="#tri" x="318.1" y="1321.5"/>
<use href="#tri" x="322.2" y="1194.4"/>
<use href="#tri" x="325.9" y="1156.8"/>
<use href="#tri" x="330.5" y="1241.1"/>
<use href="#tri" x="334.6" y="1238.5"/>
<use href="#tri" x="338.7" y="1305.9"/>
<use href="#tri" x="342.8" y="1298.1"/>
<use href="#tri" x="346.9" y="1251.5"/>
<use href="#tri" x="351.1" y="1208.7"/>
<use href="#tri" x="355.6" y="1119.2"/>
<use href="#tri" x="360.5" y="1146.4"/>
<use href="#tri" x="363" y="1137.4"/>
<use href="#tri" x="367.9" y="1156.8"/>
<use href="#tri" x="372.1" y="1305.9"/>
<use href="#tri" x="376.2" y="1359.1"/>
<use href="#tri" x="379.9" y="1303.3"/>
<use href="#tri" x="384" y="1232"/>
<use href="#tri" x="388.1" y="1217.7"/>
<use href="#tri" x="391.4" y="1189.2"/>
<use href="#tri" x="396.4" y="1177.5"/>
<use href="#tri" x="400.5" y="1158.1"/>
<use href="#tri" x="404.6" y="1296.8"/>
<use href="#tri" x="408.7" y="1324.1"/>
<use href="#tri" x="412.8" y="1242.4"/>
<use href="#tri" x="416.9" y="1206.1"/>
<use href="#tri" x="421.1" y="1145.1"/>
<use href="#tri" x="425.2" y="1321.5"/>
<use href="#tri" x="429.3" y="1360.4"/>
<use href="#tri" x="433.4" y="1359.1"/>
<use href="#tri" x="437.5" y="1334.4"/>
<use href="#tri" x="441.6" y="1283.9"/>
<use href="#tri" x="445.8" y="1320.2"/>
<use href="#tri" x="449.9" y="1224.2"/>
<use href="#tri" x="454" y="1283.9"/>
<use href="#tri" x="458.1" y="1241.1"/>
<use href="#tri" x="462.2" y="1335.4"/>
<use href="#tri" x="466.4" y="1335.7"/>
<use href="#tri" x="470.5" y="1336.4"/>
<use href="#tri" x="474.6" y="1337"/>
<use href="#tri" x="478.7" y="1337"/>
<use href="#tri" x="482.8" y="1337.7"/>
<use href="#tri" x="486.9" y="1338.3"/>
<use href="#tri" x="491.1" y="1338.3"/>
<use href="#tri" x="495.2" y="1340.3"/>
<use href="#tri" x="499.7" y="1213.9"/>
<use href="#tri" x="503" y="1228.1"/>
<use href="#tri" x="507.5" y="1340.9"/>
<use href="#tri" x="511.6" y="1340.3"/>
<use href="#tri" x="515.8" y="1239.8"/>
<use href="#tri" x="519.9" y="1272.2"/>
<use href="#tri" x="524" y="1233.3"/>
<use href="#tri" x="528.1" y="1210"/>
<use href="#tri" x="532.2" y="1208.7"/>
<use href="#tri" x="535.9" y="1220.3"/>
<use href="#tri" x="540.5" y="1226.8"/>
<use href="#tri" x="544.6" y="1198.3"/>
<use href="#tri" x="548.3" y="1207.4"/>
<polyline fill="none" stroke="#000" stroke-width="2.0" stroke-linejoin="round" points="707.6,1091.4 711.7,1071.8 715.4,1205.4 720,1113.7 724.1,1104.5 728.2,1090.1 733.1,1067.8 736.4,1073.1 740.5,1084.9 744.7,1062.6 748.8,1122.9 752.9,1129.4 756.6,1198.9 761.1,1079.6 765.2,1111.1 769.4,1128.1 773.5,1171.4 777.6,1141.2 781.7,1107.2 785.8,1096.7 789.1,1122.9 794,1100.6 797.3,1129.4 802.3,1103.2 806.4,1147.8 810.5,1133.4 814.6,1267 818.7,1154.3 822.9,1214.6 827,1311.6 830.7,1081 834.8,1088.8 838.9,1069.2 843,1095.4 847.6,1154.3 851.7,1208.1 855.8,1099.3 859.5,1319.4 864,1217.2 867.7,1278.8 871.8,1151.7 876,1210.7 880.1,1215.9 884.2,1147.8 888.3,1157 892.4,1129.4 896.5,1124.2 900.6,1192.3 904.8,1179.2 908.9,1255.2 913,1163.5 917.1,1103.2 921.2,1130.7 925.3,1187.1 929.5,1227.7 933.6,1206.7 937.7,1145.2 941.8,1167.4 945.9,1210.7 950,1183.2 954.2,1159.6 958.3,1133.4 962.4,1164.8 966.5,1269.6 970.6,1324.7 974.7,1364 979.3,1243.4 983.4,1291.9 987.5,1366.6 991.6,1312.9 995.7,1236.9 999.8,1139.9 1004,1151.7 1008.1,1212 1011.4,1164.8 1016.3,1146.5 1020.4,1164.8 1024.5,1158.3 1028.7,1154.3 1032.4,1174 1036.5,1291.9 1040.6,1367.9 1044.7,1314.2 1048.8,1159.6 1053.3,1159.6 1057.1,1329.9 1061.2,1365.3 1065.3,1367.9 1069.4,1327.3 1073.9,1282.7 1077.6,1248.7 1082.2,1297.2 1085.9,1370.5 1090,1373.2 1094.1,1341.7 1098.2,1281.4 1102.3,1274.9 1106.4,1369.2 1110.6,1204.1 1114.7,1189.7 1118.4,1193.6 1122.5,1197.6 1127,1181.8 1131.1,1204.1"/>
<use href="#tri" x="707.6" y="1091.4"/>
<use href="#tri" x="711.7" y="1071.8"/>
<use href="#tri" x="715.4" y="1205.4"/>
<use href="#tri" x="720" y="1113.7"/>
<use href="#tri" x="724.1" y="1104.5"/>
<use href="#tri" x="728.2" y="1090.1"/>
<use href="#tri" x="733.1" y="1067.8"/>
<use href="#tri" x="736.4" y="1073.1"/>
<use href="#tri" x="740.5" y="1084.9"/>
<use href="#tri" x="744.7" y="1062.6"/>
<use href="#tri" x="748.8" y="1122.9"/>
<use href="#tri" x="752.9" y="1129.4"/>
<use href="#tri" x="756.6" y="1198.9"/>
<use href="#tri" x="761.1" y="1079.6"/>
<use href="#tri" x="765.2" y="1111.1"/>
<use href="#tri" x="769.4" y="1128.1"/>
<use href="#tri" x="773.5" y="1171.4"/>
<use href="#tri" x="777.6" y="1141.2"/>
<use href="#tri" x="781.7" y="1107.2"/>
<use href="#tri" x="785.8" y="1096.7"/>
<use href="#tri" x="789.1" y="1122.9"/>
<use href="#tri" x="794" y="1100.6"/>
<use href="#tri" x="797.3" y="1129.4"/>
<use href="#tri" x="802.3" y="1103.2"/>
<use href="#tri" x="806.4" y="1147.8"/>
<use href="#tri" x="810.5" y="1133.4"/>
<use href="#tri" x="814.6" y="1267"/>
<use href="#tri" x="818.7" y="1154.3"/>
<use href="#tri" x="822.9" y="1214.6"/>
<use href="#tri" x="827" y="1311.6"/>
<use href="#tri" x="830.7" y="1081"/>
<use href="#tri" x="834.8" y="1088.8"/>
<use href="#tri" x="838.9" y="1069.2"/>
<use href="#tri" x="843" y="1095.4"/>
<use href="#tri" x="847.6" y="1154.3"/>
<use href="#tri" x="851.7" y="1208.1"/>
<use href="#tri" x="855.8" y="1099.3"/>
<use href="#tri" x="859.5" y="1319.4"/>
<use href="#tri" x="864" y="1217.2"/>
<use href="#tri" x="867.7" y="1278.8"/>
<use href="#tri" x="871.8" y="1151.7"/>
<use href="#tri" x="876" y="1210.7"/>
<use href="#tri" x="880.1" y="1215.9"/>
<use href="#tri" x="884.2" y="1147.8"/>
<use href="#tri" x="888.3" y="1157"/>
<use href="#tri" x="892.4" y="1129.4"/>
<use href="#tri" x="896.5" y="1124.2"/>
<use href="#tri" x="900.6" y="1192.3"/>
<use href="#tri" x="904.8" y="1179.2"/>
<use href="#tri" x="908.9" y="1255.2"/>
<use href="#tri" x="913" y="1163.5"/>
<use href="#tri" x="917.1" y="1103.2"/>
<use href="#tri" x="921.2" y="1130.7"/>
<use href="#tri" x="925.3" y="1187.1"/>
<use href="#tri" x="929.5" y="1227.7"/>
<use href="#tri" x="933.6" y="1206.7"/>
<use href="#tri" x="937.7" y="1145.2"/>
<use href="#tri" x="941.8" y="1167.4"/>
<use href="#tri" x="945.9" y="1210.7"/>
<use href="#tri" x="950" y="1183.2"/>
<use href="#tri" x="954.2" y="1159.6"/>
<use href="#tri" x="958.3" y="1133.4"/>
<use href="#tri" x="962.4" y="1164.8"/>
<use href="#tri" x="966.5" y="1269.6"/>
<use href="#tri" x="970.6" y="1324.7"/>
<use href="#tri" x="974.7" y="1364"/>
<use href="#tri" x="979.3" y="1243.4"/>
<use href="#tri" x="983.4" y="1291.9"/>
<use href="#tri" x="987.5" y="1366.6"/>
<use href="#tri" x="991.6" y="1312.9"/>
<use href="#tri" x="995.7" y="1236.9"/>
<use href="#tri" x="999.8" y="1139.9"/>
<use href="#tri" x="1004" y="1151.7"/>
<use href="#tri" x="1008.1" y="1212"/>
<use href="#tri" x="1011.4" y="1164.8"/>
<use href="#tri" x="1016.3" y="1146.5"/>
<use href="#tri" x="1020.4" y="1164.8"/>
<use href="#tri" x="1024.5" y="1158.3"/>
<use href="#tri" x="1028.7" y="1154.3"/>
<use href="#tri" x="1032.4" y="1174"/>
<use href="#tri" x="1036.5" y="1291.9"/>
<use href="#tri" x="1040.6" y="1367.9"/>
<use href="#tri" x="1044.7" y="1314.2"/>
<use href="#tri" x="1048.8" y="1159.6"/>
<use href="#tri" x="1053.3" y="1159.6"/>
<use href="#tri" x="1057.1" y="1329.9"/>
<use href="#tri" x="1061.2" y="1365.3"/>
<use href="#tri" x="1065.3" y="1367.9"/>
<use href="#tri" x="1069.4" y="1327.3"/>
<use href="#tri" x="1073.9" y="1282.7"/>
<use href="#tri" x="1077.6" y="1248.7"/>
<use href="#tri" x="1082.2" y="1297.2"/>
<use href="#tri" x="1085.9" y="1370.5"/>
<use href="#tri" x="1090" y="1373.2"/>
<use href="#tri" x="1094.1" y="1341.7"/>
<use href="#tri" x="1098.2" y="1281.4"/>
<use href="#tri" x="1102.3" y="1274.9"/>
<use href="#tri" x="1106.4" y="1369.2"/>
<use href="#tri" x="1110.6" y="1204.1"/>
<use href="#tri" x="1114.7" y="1189.7"/>
<use href="#tri" x="1118.4" y="1193.6"/>
<use href="#tri" x="1122.5" y="1197.6"/>
<use href="#tri" x="1127" y="1181.8"/>
<use href="#tri" x="1131.1" y="1204.1"/>
<polyline fill="none" stroke="#000" stroke-width="2.0" stroke-linejoin="round" points="128.6,1606.3 132.7,1687.9 135.2,1652.5 140.1,1649.5 144.7,1659.4 149.6,1630.8 153.3,1688.9 157.4,1779.3 161.6,1754.8 165.7,1815.7 169.8,1712.5 173.9,1669.2 178,1699.7 181.7,1641.7 185.9,1621 190.4,1645.6 194.5,1622 198.2,1636.7 202.7,1725.3 206.9,1822.6 211,1793.1 215.1,1759.7 219.2,1729.2 222.9,1822.6 227.5,1743.9 231.6,1777.4 235.7,1684.9 239.8,1649.5 243.9,1656.4 248.5,1617.1 252.6,1627.9 256.3,1697.7 260.4,1663.3 264.5,1720.3 269.5,1643.6 272.8,1754.8 276.9,1730.2 281.4,1695.8 285.5,1651.5 288.8,1825.6 292.9,1813.8 297.5,1761.6 301.6,1738 305.7,1721.3 309.8,1825.6 313.9,1825.6 318.1,1825.6 322.2,1825.6 326.3,1676.1 330,1720.3 334.1,1649.5 338.7,1826.6 342.8,1826.6 346.9,1826.6 351,1702.6 355.5,1660.3 359.2,1659.4 363.4,1666.2 367.1,1676.1 371.2,1777.4 375.3,1829.5 379.4,1829.5 384,1759.7 388.1,1745.9 391.8,1693.8 396.3,1677.1 400,1660.3 404.1,1660.3 408.7,1831.5 412.8,1831.5 416.9,1689.9 421,1719.4 425.1,1706.6 429.3,1831.5 433.4,1832.5 437.5,1832.5 441.6,1833.4 445.7,1833.4 449.8,1803 454,1834.4 458.1,1779.3 462.2,1834.4 466.3,1834.9 470.4,1835.4 474.6,1835.4 478.7,1835.9 482.8,1836.4 486.9,1836.4 491,1836.9 495.2,1837.4 499.3,1837.4 503.4,1757.7 507.5,1761.6 511.2,1839.3 515.7,1745.9 519.9,1840.3 524.4,1764.6 528.5,1743 532.2,1722.3 536.3,1711.5 540.5,1721.3 544.6,1722.3 548.7,1705.6"/>
<use href="#tri" x="128.6" y="1606.3"/>
<use href="#tri" x="132.7" y="1687.9"/>
<use href="#tri" x="135.2" y="1652.5"/>
<use href="#tri" x="140.1" y="1649.5"/>
<use href="#tri" x="144.7" y="1659.4"/>
<use href="#tri" x="149.6" y="1630.8"/>
<use href="#tri" x="153.3" y="1688.9"/>
<use href="#tri" x="157.4" y="1779.3"/>
<use href="#tri" x="161.6" y="1754.8"/>
<use href="#tri" x="165.7" y="1815.7"/>
<use href="#tri" x="169.8" y="1712.5"/>
<use href="#tri" x="173.9" y="1669.2"/>
<use href="#tri" x="178" y="1699.7"/>
<use href="#tri" x="181.7" y="1641.7"/>
<use href="#tri" x="185.9" y="1621"/>
<use href="#tri" x="190.4" y="1645.6"/>
<use href="#tri" x="194.5" y="1622"/>
<use href="#tri" x="198.2" y="1636.7"/>
<use href="#tri" x="202.7" y="1725.3"/>
<use href="#tri" x="206.9" y="1822.6"/>
<use href="#tri" x="211" y="1793.1"/>
<use href="#tri" x="215.1" y="1759.7"/>
<use href="#tri" x="219.2" y="1729.2"/>
<use href="#tri" x="222.9" y="1822.6"/>
<use href="#tri" x="227.5" y="1743.9"/>
<use href="#tri" x="231.6" y="1777.4"/>
<use href="#tri" x="235.7" y="1684.9"/>
<use href="#tri" x="239.8" y="1649.5"/>
<use href="#tri" x="243.9" y="1656.4"/>
<use href="#tri" x="248.5" y="1617.1"/>
<use href="#tri" x="252.6" y="1627.9"/>
<use href="#tri" x="256.3" y="1697.7"/>
<use href="#tri" x="260.4" y="1663.3"/>
<use href="#tri" x="264.5" y="1720.3"/>
<use href="#tri" x="269.5" y="1643.6"/>
<use href="#tri" x="272.8" y="1754.8"/>
<use href="#tri" x="276.9" y="1730.2"/>
<use href="#tri" x="281.4" y="1695.8"/>
<use href="#tri" x="285.5" y="1651.5"/>
<use href="#tri" x="288.8" y="1825.6"/>
<use href="#tri" x="292.9" y="1813.8"/>
<use href="#tri" x="297.5" y="1761.6"/>
<use href="#tri" x="301.6" y="1738"/>
<use href="#tri" x="305.7" y="1721.3"/>
<use href="#tri" x="309.8" y="1825.6"/>
<use href="#tri" x="313.9" y="1825.6"/>
<use href="#tri" x="318.1" y="1825.6"/>
<use href="#tri" x="322.2" y="1825.6"/>
<use href="#tri" x="326.3" y="1676.1"/>
<use href="#tri" x="330" y="1720.3"/>
<use href="#tri" x="334.1" y="1649.5"/>
<use href="#tri" x="338.7" y="1826.6"/>
<use href="#tri" x="342.8" y="1826.6"/>
<use href="#tri" x="346.9" y="1826.6"/>
<use href="#tri" x="351" y="1702.6"/>
<use href="#tri" x="355.5" y="1660.3"/>
<use href="#tri" x="359.2" y="1659.4"/>
<use href="#tri" x="363.4" y="1666.2"/>
<use href="#tri" x="367.1" y="1676.1"/>
<use href="#tri" x="371.2" y="1777.4"/>
<use href="#tri" x="375.3" y="1829.5"/>
<use href="#tri" x="379.4" y="1829.5"/>
<use href="#tri" x="384" y="1759.7"/>
<use href="#tri" x="388.1" y="1745.9"/>
<use href="#tri" x="391.8" y="1693.8"/>
<use href="#tri" x="396.3" y="1677.1"/>
<use href="#tri" x="400" y="1660.3"/>
<use href="#tri" x="404.1" y="1660.3"/>
<use href="#tri" x="408.7" y="1831.5"/>
<use href="#tri" x="412.8" y="1831.5"/>
<use href="#tri" x="416.9" y="1689.9"/>
<use href="#tri" x="421" y="1719.4"/>
<use href="#tri" x="425.1" y="1706.6"/>
<use href="#tri" x="429.3" y="1831.5"/>
<use href="#tri" x="433.4" y="1832.5"/>
<use href="#tri" x="437.5" y="1832.5"/>
<use href="#tri" x="441.6" y="1833.4"/>
<use href="#tri" x="445.7" y="1833.4"/>
<use href="#tri" x="449.8" y="1803"/>
<use href="#tri" x="454" y="1834.4"/>
<use href="#tri" x="458.1" y="1779.3"/>
<use href="#tri" x="462.2" y="1834.4"/>
<use href="#tri" x="466.3" y="1834.9"/>
<use href="#tri" x="470.4" y="1835.4"/>
<use href="#tri" x="474.6" y="1835.4"/>
<use href="#tri" x="478.7" y="1835.9"/>
<use href="#tri" x="482.8" y="1836.4"/>
<use href="#tri" x="486.9" y="1836.4"/>
<use href="#tri" x="491" y="1836.9"/>
<use href="#tri" x="495.2" y="1837.4"/>
<use href="#tri" x="499.3" y="1837.4"/>
<use href="#tri" x="503.4" y="1757.7"/>
<use href="#tri" x="507.5" y="1761.6"/>
<use href="#tri" x="511.2" y="1839.3"/>
<use href="#tri" x="515.7" y="1745.9"/>
<use href="#tri" x="519.9" y="1840.3"/>
<use href="#tri" x="524.4" y="1764.6"/>
<use href="#tri" x="528.5" y="1743"/>
<use href="#tri" x="532.2" y="1722.3"/>
<use href="#tri" x="536.3" y="1711.5"/>
<use href="#tri" x="540.5" y="1721.3"/>
<use href="#tri" x="544.6" y="1722.3"/>
<use href="#tri" x="548.7" y="1705.6"/>
<polyline fill="none" stroke="#000" stroke-width="2.0" stroke-linejoin="round" points="707.6,1700.7 711.7,1647.6 715.8,1684.9 720,1666.2 723.7,1665.3 728.2,1752.8 732.3,1630.8 736.4,1651.5 740.5,1631.8 744.2,1631.8 748.8,1631.8 752.9,1650.5 756.2,1718.4 760.7,1736.1 764.4,1752.8 769.4,1700.7 773.1,1720.3 777.6,1752.8 781.3,1684.9 785,1703.6 789.5,1667.2 793.6,1704.6 797.8,1703.6 802.3,1651.5 806.4,1737.1 810.5,1719.4 814.2,1771.5 818.3,1822.6 822.4,1822.6 827,1822.6 831.1,1635.8 835.2,1635.8 839.3,1657.4 843.4,1637.7 847.6,1791.2 851.7,1757.7 855.8,1672.1 859.9,1824.6 863.6,1824.6 868.1,1775.4 871.8,1707.6 876.4,1742 880.5,1808.9 885,1809.8 888.7,1743.9 892.4,1678 896.5,1659.4 900.6,1727.2 904.8,1777.4 908.9,1828.5 913.4,1778.4 917.5,1679 921.2,1730.2 924.9,1747.9 929.9,1714.4 933.6,1762.6 938.1,1697.7 941.8,1828.5 946.3,1828.5 950.5,1828.5 954.6,1764.6 958.3,1652.5 962.8,1652.5 966.9,1813.8 971,1829.5 975.1,1830 979.3,1830.5 983.4,1735.1 987.5,1830.5 991.6,1831 995.7,1831.5 999.8,1707.6 1004,1659.4 1008.1,1694.8 1012.2,1693.8 1016.3,1679 1020.4,1680 1024.5,1680 1028.7,1681 1032.8,1682 1036.5,1713.5 1041,1833.4 1043.9,1834.4 1048.8,1730.2 1053.3,1684.9 1057.5,1834.4 1061.6,1834.4 1065.7,1834.9 1069.8,1835.4 1073.9,1835.4 1078,1792.1 1082.2,1835.9 1086.3,1836.4 1090.4,1836.4 1094.5,1836.9 1098.6,1836.9 1102.7,1837.4 1106.9,1837.4 1111,1767.5 1114.7,1713.5 1119.2,1684 1123.3,1701.7 1127.4,1710.5 1131.5,1716.4 1135.7,1731.2"/>
<use href="#tri" x="707.6" y="1700.7"/>
<use href="#tri" x="711.7" y="1647.6"/>
<use href="#tri" x="715.8" y="1684.9"/>
<use href="#tri" x="720" y="1666.2"/>
<use href="#tri" x="723.7" y="1665.3"/>
<use href="#tri" x="728.2" y="1752.8"/>
<use href="#tri" x="732.3" y="1630.8"/>
<use href="#tri" x="736.4" y="1651.5"/>
<use href="#tri" x="740.5" y="1631.8"/>
<use href="#tri" x="744.2" y="1631.8"/>
<use href="#tri" x="748.8" y="1631.8"/>
<use href="#tri" x="752.9" y="1650.5"/>
<use href="#tri" x="756.2" y="1718.4"/>
<use href="#tri" x="760.7" y="1736.1"/>
<use href="#tri" x="764.4" y="1752.8"/>
<use href="#tri" x="769.4" y="1700.7"/>
<use href="#tri" x="773.1" y="1720.3"/>
<use href="#tri" x="777.6" y="1752.8"/>
<use href="#tri" x="781.3" y="1684.9"/>
<use href="#tri" x="785" y="1703.6"/>
<use href="#tri" x="789.5" y="1667.2"/>
<use href="#tri" x="793.6" y="1704.6"/>
<use href="#tri" x="797.8" y="1703.6"/>
<use href="#tri" x="802.3" y="1651.5"/>
<use href="#tri" x="806.4" y="1737.1"/>
<use href="#tri" x="810.5" y="1719.4"/>
<use href="#tri" x="814.2" y="1771.5"/>
<use href="#tri" x="818.3" y="1822.6"/>
<use href="#tri" x="822.4" y="1822.6"/>
<use href="#tri" x="827" y="1822.6"/>
<use href="#tri" x="831.1" y="1635.8"/>
<use href="#tri" x="835.2" y="1635.8"/>
<use href="#tri" x="839.3" y="1657.4"/>
<use href="#tri" x="843.4" y="1637.7"/>
<use href="#tri" x="847.6" y="1791.2"/>
<use href="#tri" x="851.7" y="1757.7"/>
<use href="#tri" x="855.8" y="1672.1"/>
<use href="#tri" x="859.9" y="1824.6"/>
<use href="#tri" x="863.6" y="1824.6"/>
<use href="#tri" x="868.1" y="1775.4"/>
<use href="#tri" x="871.8" y="1707.6"/>
<use href="#tri" x="876.4" y="1742"/>
<use href="#tri" x="880.5" y="1808.9"/>
<use href="#tri" x="885" y="1809.8"/>
<use href="#tri" x="888.7" y="1743.9"/>
<use href="#tri" x="892.4" y="1678"/>
<use href="#tri" x="896.5" y="1659.4"/>
<use href="#tri" x="900.6" y="1727.2"/>
<use href="#tri" x="904.8" y="1777.4"/>
<use href="#tri" x="908.9" y="1828.5"/>
<use href="#tri" x="913.4" y="1778.4"/>
<use href="#tri" x="917.5" y="1679"/>
<use href="#tri" x="921.2" y="1730.2"/>
<use href="#tri" x="924.9" y="1747.9"/>
<use href="#tri" x="929.9" y="1714.4"/>
<use href="#tri" x="933.6" y="1762.6"/>
<use href="#tri" x="938.1" y="1697.7"/>
<use href="#tri" x="941.8" y="1828.5"/>
<use href="#tri" x="946.3" y="1828.5"/>
<use href="#tri" x="950.5" y="1828.5"/>
<use href="#tri" x="954.6" y="1764.6"/>
<use href="#tri" x="958.3" y="1652.5"/>
<use href="#tri" x="962.8" y="1652.5"/>
<use href="#tri" x="966.9" y="1813.8"/>
<use href="#tri" x="971" y="1829.5"/>
<use href="#tri" x="975.1" y="1830"/>
<use href="#tri" x="979.3" y="1830.5"/>
<use href="#tri" x="983.4" y="1735.1"/>
<use href="#tri" x="987.5" y="1830.5"/>
<use href="#tri" x="991.6" y="1831"/>
<use href="#tri" x="995.7" y="1831.5"/>
<use href="#tri" x="999.8" y="1707.6"/>
<use href="#tri" x="1004" y="1659.4"/>
<use href="#tri" x="1008.1" y="1694.8"/>
<use href="#tri" x="1012.2" y="1693.8"/>
<use href="#tri" x="1016.3" y="1679"/>
<use href="#tri" x="1020.4" y="1680"/>
<use href="#tri" x="1024.5" y="1680"/>
<use href="#tri" x="1028.7" y="1681"/>
<use href="#tri" x="1032.8" y="1682"/>
<use href="#tri" x="1036.5" y="1713.5"/>
<use href="#tri" x="1041" y="1833.4"/>
<use href="#tri" x="1043.9" y="1834.4"/>
<use href="#tri" x="1048.8" y="1730.2"/>
<use href="#tri" x="1053.3" y="1684.9"/>
<use href="#tri" x="1057.5" y="1834.4"/>
<use href="#tri" x="1061.6" y="1834.4"/>
<use href="#tri" x="1065.7" y="1834.9"/>
<use href="#tri" x="1069.8" y="1835.4"/>
<use href="#tri" x="1073.9" y="1835.4"/>
<use href="#tri" x="1078" y="1792.1"/>
<use href="#tri" x="1082.2" y="1835.9"/>
<use href="#tri" x="1086.3" y="1836.4"/>
<use href="#tri" x="1090.4" y="1836.4"/>
<use href="#tri" x="1094.5" y="1836.9"/>
<use href="#tri" x="1098.6" y="1836.9"/>
<use href="#tri" x="1102.7" y="1837.4"/>
<use href="#tri" x="1106.9" y="1837.4"/>
<use href="#tri" x="1111" y="1767.5"/>
<use href="#tri" x="1114.7" y="1713.5"/>
<use href="#tri" x="1119.2" y="1684"/>
<use href="#tri" x="1123.3" y="1701.7"/>
<use href="#tri" x="1127.4" y="1710.5"/>
<use href="#tri" x="1131.5" y="1716.4"/>
<use href="#tri" x="1135.7" y="1731.2"/>
</g>

<text transform="translate(35.4 453.3) rotate(-90)" text-anchor="middle" class="tt" style="font-size:28.1px">Temperature (°C)</text>
<text transform="translate(36.1 1432.4) rotate(-90)" text-anchor="middle" class="tt" style="font-size:28.3px">Solar radiation (MJ m<tspan dy="-10" class="sup">−2</tspan><tspan dy="10"> d</tspan><tspan dy="-10" class="sup">−1</tspan><tspan dy="10">)</tspan></text>
<text x="651.6" y="1974.3" text-anchor="middle" class="tt" style="font-size:28.4px">Days after transplanting</text>

</g>
</svg>
</body></html>
